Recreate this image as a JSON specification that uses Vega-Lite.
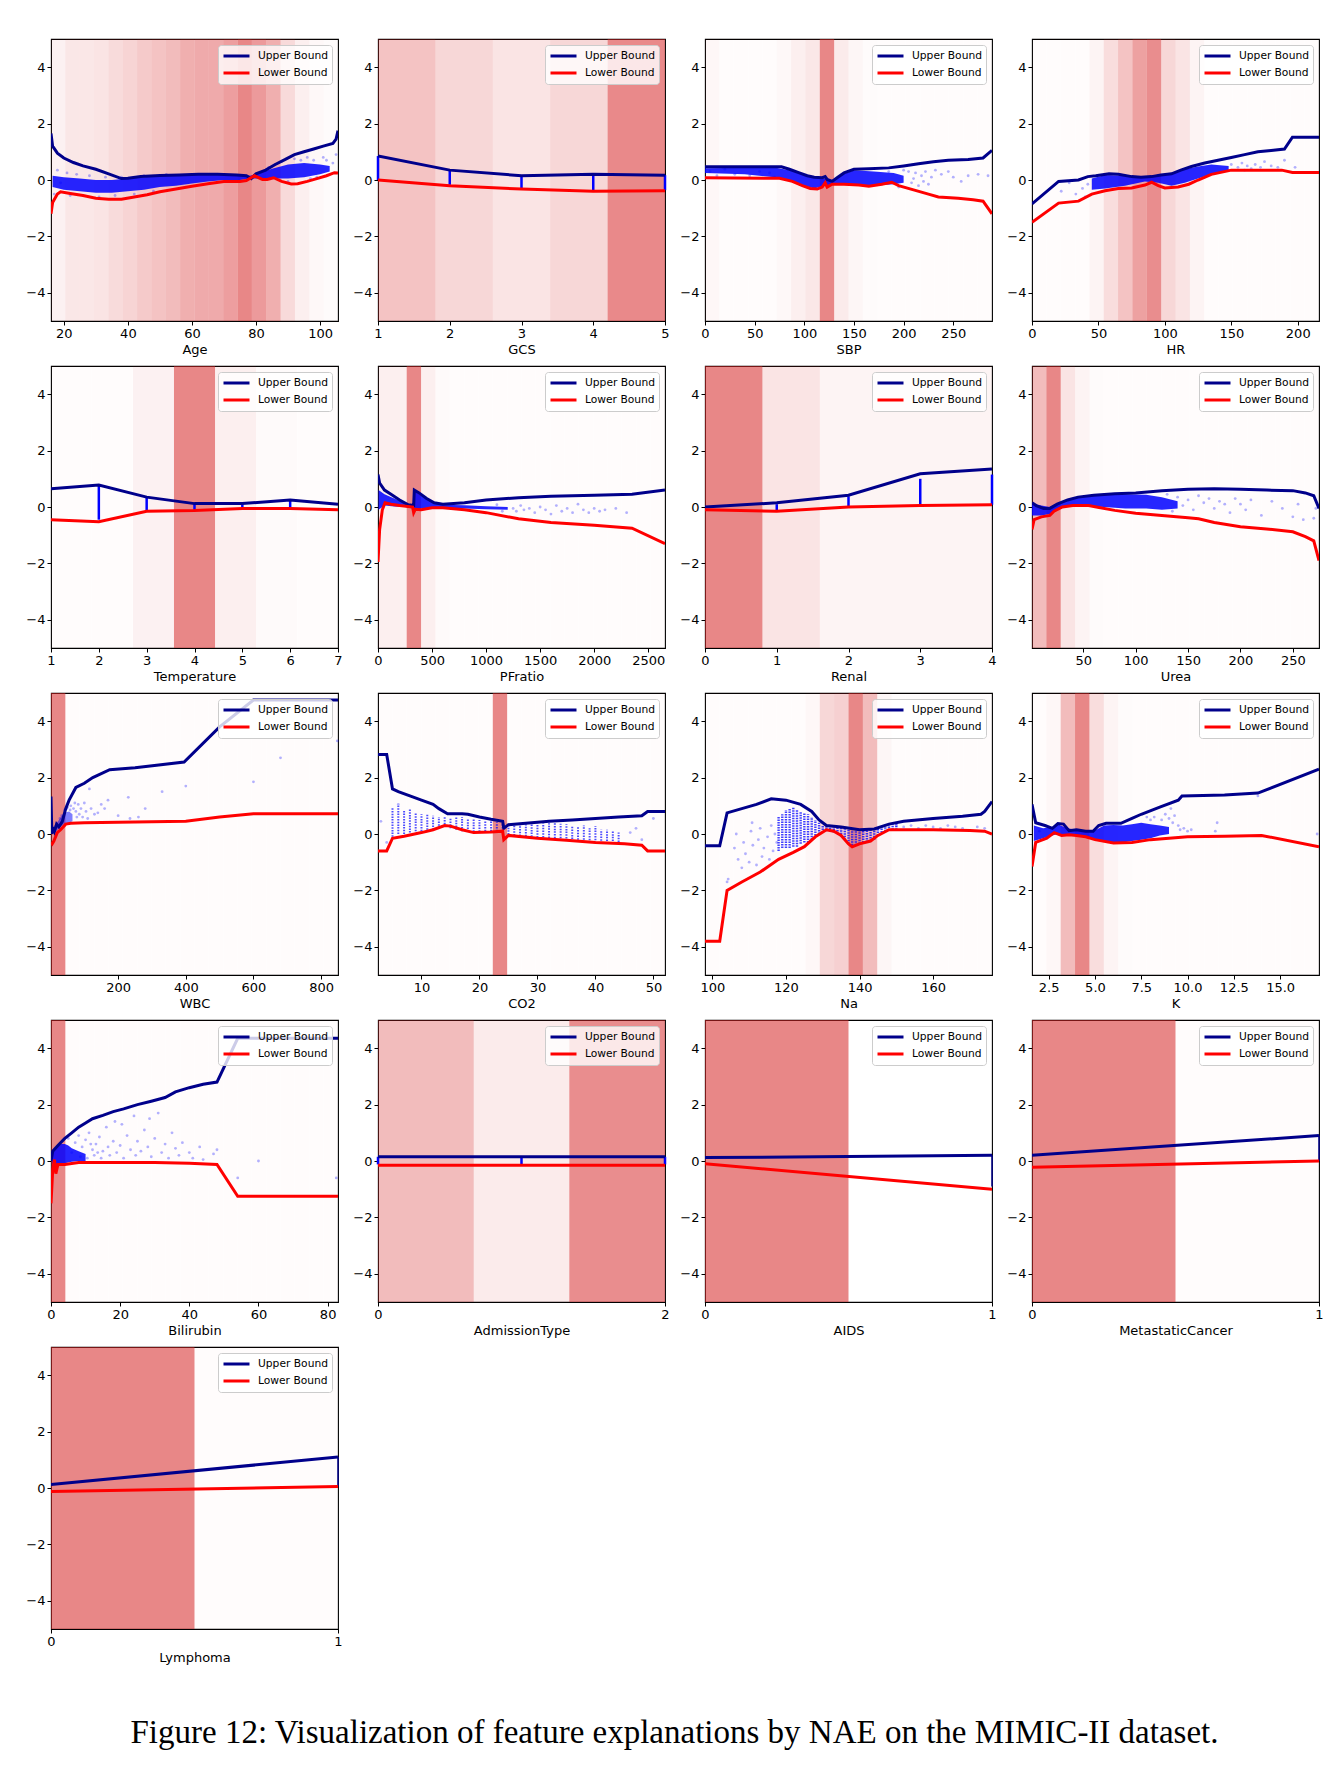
{
"$schema":"https://vega.github.io/schema/vega-lite/v6.json",
"padding":{"left":25,"top":38,"right":10,"bottom":10},
"background":"#ffffff",
"bounds":"flush",
"spacing":{"row":45,"column":40},
"columns":4,
"title":{"text":"Figure 12: Visualization of feature explanations by NAE on the MIMIC-II dataset.","orient":"bottom","anchor":"middle","font":"Liberation Serif","fontSize":33,"fontWeight":"normal","color":"#000","offset":52},
"resolve":{"legend":{"color":"independent"}},
"data":{"name":"d"},
"datasets":{"d":[
{"f":"Age","k":"b","x":16,"x1":20.48,"d":0.1},{"f":"Age","k":"b","x":20.48,"x1":24.96,"d":0.18},{"f":"Age","k":"b","x":24.96,"x1":29.44,"d":0.18},{"f":"Age","k":"b","x":29.44,"x1":33.92,"d":0.2},{"f":"Age","k":"b","x":33.92,"x1":38.4,"d":0.27},{"f":"Age","k":"b","x":38.4,"x1":42.88,"d":0.32},{"f":"Age","k":"b","x":42.88,"x1":47.36,"d":0.4},{"f":"Age","k":"b","x":47.36,"x1":51.84,"d":0.45},{"f":"Age","k":"b","x":51.84,"x1":56.32,"d":0.5},{"f":"Age","k":"b","x":56.32,"x1":60.8,"d":0.6},{"f":"Age","k":"b","x":60.8,"x1":65.28,"d":0.63},{"f":"Age","k":"b","x":65.28,"x1":69.76,"d":0.63},{"f":"Age","k":"b","x":69.76,"x1":74.24,"d":0.72},{"f":"Age","k":"b","x":74.24,"x1":78.72,"d":0.9},{"f":"Age","k":"b","x":78.72,"x1":83.2,"d":0.75},{"f":"Age","k":"b","x":83.2,"x1":87.68,"d":0.6},{"f":"Age","k":"b","x":87.68,"x1":92.16,"d":0.28},{"f":"Age","k":"b","x":92.16,"x1":96.64,"d":0.12},{"f":"Age","k":"b","x":96.64,"x1":101.12,"d":0.05},{"f":"Age","k":"b","x":101.12,"x1":105.6,"d":0.03},
{"f":"Age","k":"a","x":16.5,"y":-0.25,"y2":0.15},{"f":"Age","k":"a","x":20,"y":-0.35,"y2":0.1},{"f":"Age","k":"a","x":25,"y":-0.4,"y2":0.05},{"f":"Age","k":"a","x":30,"y":-0.45,"y2":0.0},{"f":"Age","k":"a","x":35,"y":-0.45,"y2":0.0},{"f":"Age","k":"a","x":40,"y":-0.4,"y2":0.05},{"f":"Age","k":"a","x":45,"y":-0.35,"y2":0.1},{"f":"Age","k":"a","x":50,"y":-0.25,"y2":0.15},{"f":"Age","k":"a","x":55,"y":-0.2,"y2":0.15},{"f":"Age","k":"a","x":60,"y":-0.12,"y2":0.18},{"f":"Age","k":"a","x":65,"y":-0.05,"y2":0.2},{"f":"Age","k":"a","x":70,"y":0.0,"y2":0.2},{"f":"Age","k":"a","x":75,"y":0.0,"y2":0.18},{"f":"Age","k":"a","x":78,"y":0.05,"y2":0.15},{"f":"Age","k":"a","x":80,"y":0.05,"y2":0.2},{"f":"Age","k":"a","x":85,"y":0.05,"y2":0.4},{"f":"Age","k":"a","x":90,"y":0.05,"y2":0.55},{"f":"Age","k":"a","x":95,"y":0.1,"y2":0.6},{"f":"Age","k":"a","x":100,"y":0.2,"y2":0.55},{"f":"Age","k":"a","x":103,"y":0.3,"y2":0.5},
{"f":"Age","k":"p","x":17,"y":-0.5},{"f":"Age","k":"p","x":18,"y":0.35},{"f":"Age","k":"p","x":19,"y":-0.1},{"f":"Age","k":"p","x":21,"y":0.25},{"f":"Age","k":"p","x":22,"y":-0.55},{"f":"Age","k":"p","x":24,"y":0.2},{"f":"Age","k":"p","x":26,"y":-0.55},{"f":"Age","k":"p","x":28,"y":0.15},{"f":"Age","k":"p","x":31,"y":-0.6},{"f":"Age","k":"p","x":33,"y":0.1},{"f":"Age","k":"p","x":36,"y":-0.55},{"f":"Age","k":"p","x":38,"y":0.1},{"f":"Age","k":"p","x":42,"y":-0.5},{"f":"Age","k":"p","x":45,"y":0.15},{"f":"Age","k":"p","x":48,"y":-0.4},{"f":"Age","k":"p","x":52,"y":0.2},{"f":"Age","k":"p","x":84,"y":0.45},{"f":"Age","k":"p","x":86,"y":0.55},{"f":"Age","k":"p","x":88,"y":0.65},{"f":"Age","k":"p","x":90,"y":-0.05},{"f":"Age","k":"p","x":92,"y":0.75},{"f":"Age","k":"p","x":94,"y":0.7},{"f":"Age","k":"p","x":96,"y":0.8},{"f":"Age","k":"p","x":97,"y":0.05},{"f":"Age","k":"p","x":98,"y":0.7},{"f":"Age","k":"p","x":99,"y":0.1},{"f":"Age","k":"p","x":101,"y":0.8},{"f":"Age","k":"p","x":102,"y":0.7},{"f":"Age","k":"p","x":104,"y":0.6},{"f":"Age","k":"p","x":105,"y":0.9},
{"f":"Age","k":"Upper Bound","x":16,"y":1.65},{"f":"Age","k":"Upper Bound","x":16.5,"y":1.2},{"f":"Age","k":"Upper Bound","x":18,"y":0.95},{"f":"Age","k":"Upper Bound","x":20,"y":0.78},{"f":"Age","k":"Upper Bound","x":23,"y":0.62},{"f":"Age","k":"Upper Bound","x":26,"y":0.5},{"f":"Age","k":"Upper Bound","x":30,"y":0.38},{"f":"Age","k":"Upper Bound","x":34,"y":0.22},{"f":"Age","k":"Upper Bound","x":38,"y":0.05},{"f":"Age","k":"Upper Bound","x":40,"y":0.06},{"f":"Age","k":"Upper Bound","x":44,"y":0.12},{"f":"Age","k":"Upper Bound","x":50,"y":0.16},{"f":"Age","k":"Upper Bound","x":56,"y":0.18},{"f":"Age","k":"Upper Bound","x":62,"y":0.2},{"f":"Age","k":"Upper Bound","x":68,"y":0.2},{"f":"Age","k":"Upper Bound","x":74,"y":0.18},{"f":"Age","k":"Upper Bound","x":77,"y":0.15},{"f":"Age","k":"Upper Bound","x":78.5,"y":0.05},{"f":"Age","k":"Upper Bound","x":80,"y":0.22},{"f":"Age","k":"Upper Bound","x":83,"y":0.35},{"f":"Age","k":"Upper Bound","x":86,"y":0.55},{"f":"Age","k":"Upper Bound","x":89,"y":0.72},{"f":"Age","k":"Upper Bound","x":92,"y":0.9},{"f":"Age","k":"Upper Bound","x":95,"y":1.0},{"f":"Age","k":"Upper Bound","x":98,"y":1.1},{"f":"Age","k":"Upper Bound","x":101,"y":1.2},{"f":"Age","k":"Upper Bound","x":104,"y":1.3},{"f":"Age","k":"Upper Bound","x":105,"y":1.45},{"f":"Age","k":"Upper Bound","x":105.6,"y":1.75},
{"f":"Age","k":"Lower Bound","x":16,"y":-1.2},{"f":"Age","k":"Lower Bound","x":16.5,"y":-0.8},{"f":"Age","k":"Lower Bound","x":18,"y":-0.5},{"f":"Age","k":"Lower Bound","x":19,"y":-0.42},{"f":"Age","k":"Lower Bound","x":22,"y":-0.48},{"f":"Age","k":"Lower Bound","x":26,"y":-0.55},{"f":"Age","k":"Lower Bound","x":30,"y":-0.65},{"f":"Age","k":"Lower Bound","x":34,"y":-0.68},{"f":"Age","k":"Lower Bound","x":38,"y":-0.68},{"f":"Age","k":"Lower Bound","x":42,"y":-0.6},{"f":"Age","k":"Lower Bound","x":46,"y":-0.52},{"f":"Age","k":"Lower Bound","x":50,"y":-0.42},{"f":"Age","k":"Lower Bound","x":55,"y":-0.32},{"f":"Age","k":"Lower Bound","x":60,"y":-0.22},{"f":"Age","k":"Lower Bound","x":65,"y":-0.13},{"f":"Age","k":"Lower Bound","x":70,"y":-0.05},{"f":"Age","k":"Lower Bound","x":75,"y":-0.05},{"f":"Age","k":"Lower Bound","x":77,"y":-0.02},{"f":"Age","k":"Lower Bound","x":79.5,"y":0.15},{"f":"Age","k":"Lower Bound","x":82,"y":0.02},{"f":"Age","k":"Lower Bound","x":83.5,"y":0.02},{"f":"Age","k":"Lower Bound","x":85.5,"y":0.08},{"f":"Age","k":"Lower Bound","x":88,"y":-0.05},{"f":"Age","k":"Lower Bound","x":91,"y":-0.14},{"f":"Age","k":"Lower Bound","x":93,"y":-0.13},{"f":"Age","k":"Lower Bound","x":96,"y":-0.05},{"f":"Age","k":"Lower Bound","x":99,"y":0.05},{"f":"Age","k":"Lower Bound","x":102,"y":0.15},{"f":"Age","k":"Lower Bound","x":104.5,"y":0.26},{"f":"Age","k":"Lower Bound","x":105.6,"y":0.25},

{"f":"GCS","k":"b","x":1,"x1":1.8,"d":0.45},{"f":"GCS","k":"b","x":1.8,"x1":2.6,"d":0.3},{"f":"GCS","k":"b","x":2.6,"x1":3.4,"d":0.2},{"f":"GCS","k":"b","x":3.4,"x1":4.2,"d":0.3},{"f":"GCS","k":"b","x":4.2,"x1":5,"d":0.88},
{"f":"GCS","k":"s","x":2,"y":-0.17,"y2":0.35},{"f":"GCS","k":"s","x":3,"y":-0.3,"y2":0.15},{"f":"GCS","k":"s","x":4,"y":-0.37,"y2":0.2},{"f":"GCS","k":"s","x":5,"y":-0.36,"y2":0.17},{"f":"GCS","k":"s","x":1,"y":0.0,"y2":0.85},
{"f":"GCS","k":"Upper Bound","x":1,"y":0.85},{"f":"GCS","k":"Upper Bound","x":2,"y":0.35},{"f":"GCS","k":"Upper Bound","x":3,"y":0.15},{"f":"GCS","k":"Upper Bound","x":4,"y":0.2},{"f":"GCS","k":"Upper Bound","x":5,"y":0.17},
{"f":"GCS","k":"Lower Bound","x":1,"y":0.0},{"f":"GCS","k":"Lower Bound","x":2,"y":-0.2},{"f":"GCS","k":"Lower Bound","x":3,"y":-0.32},{"f":"GCS","k":"Lower Bound","x":4,"y":-0.4},{"f":"GCS","k":"Lower Bound","x":5,"y":-0.38},

{"f":"SBP","k":"b","x":0,"x1":14.45,"d":0.06},{"f":"SBP","k":"b","x":14.45,"x1":28.9,"d":0.02},{"f":"SBP","k":"b","x":28.9,"x1":43.35,"d":0.02},{"f":"SBP","k":"b","x":43.35,"x1":57.8,"d":0.02},{"f":"SBP","k":"b","x":57.8,"x1":72.25,"d":0.02},{"f":"SBP","k":"b","x":72.25,"x1":86.7,"d":0.05},{"f":"SBP","k":"b","x":86.7,"x1":101.15,"d":0.12},{"f":"SBP","k":"b","x":101.15,"x1":115.6,"d":0.18},{"f":"SBP","k":"b","x":115.6,"x1":130.05,"d":0.9},{"f":"SBP","k":"b","x":130.05,"x1":144.5,"d":0.15},{"f":"SBP","k":"b","x":144.5,"x1":158.95,"d":0.07},{"f":"SBP","k":"b","x":158.95,"x1":173.4,"d":0.03},{"f":"SBP","k":"b","x":173.4,"x1":187.85,"d":0.02},{"f":"SBP","k":"b","x":187.85,"x1":202.3,"d":0.02},{"f":"SBP","k":"b","x":202.3,"x1":216.75,"d":0.02},{"f":"SBP","k":"b","x":216.75,"x1":231.2,"d":0.02},{"f":"SBP","k":"b","x":231.2,"x1":245.65,"d":0.02},{"f":"SBP","k":"b","x":245.65,"x1":260.1,"d":0.02},{"f":"SBP","k":"b","x":260.1,"x1":274.55,"d":0.02},{"f":"SBP","k":"b","x":274.55,"x1":289,"d":0.02},
{"f":"SBP","k":"a","x":0,"y":0.25,"y2":0.42},{"f":"SBP","k":"a","x":40,"y":0.2,"y2":0.43},{"f":"SBP","k":"a","x":70,"y":0.1,"y2":0.44},{"f":"SBP","k":"a","x":85,"y":0.0,"y2":0.35},{"f":"SBP","k":"a","x":100,"y":-0.2,"y2":0.2},{"f":"SBP","k":"a","x":110,"y":-0.3,"y2":0.1},{"f":"SBP","k":"a","x":120,"y":-0.2,"y2":0.05},{"f":"SBP","k":"a","x":128,"y":-0.15,"y2":-0.02},{"f":"SBP","k":"a","x":135,"y":-0.15,"y2":0.15},{"f":"SBP","k":"a","x":150,"y":-0.15,"y2":0.35},{"f":"SBP","k":"a","x":170,"y":-0.2,"y2":0.3},{"f":"SBP","k":"a","x":190,"y":-0.15,"y2":0.25},{"f":"SBP","k":"a","x":200,"y":-0.1,"y2":0.15},
{"f":"SBP","k":"p","x":5,"y":0.3},{"f":"SBP","k":"p","x":12,"y":0.15},{"f":"SBP","k":"p","x":20,"y":0.38},{"f":"SBP","k":"p","x":30,"y":0.2},{"f":"SBP","k":"p","x":45,"y":0.15},{"f":"SBP","k":"p","x":55,"y":0.3},{"f":"SBP","k":"p","x":65,"y":0.25},{"f":"SBP","k":"p","x":70,"y":0.1},{"f":"SBP","k":"p","x":185,"y":0.3},{"f":"SBP","k":"p","x":195,"y":-0.25},{"f":"SBP","k":"p","x":200,"y":0.35},{"f":"SBP","k":"p","x":205,"y":0.3},{"f":"SBP","k":"p","x":208,"y":-0.1},{"f":"SBP","k":"p","x":210,"y":0.05},{"f":"SBP","k":"p","x":212,"y":0.25},{"f":"SBP","k":"p","x":215,"y":-0.2},{"f":"SBP","k":"p","x":218,"y":0.15},{"f":"SBP","k":"p","x":220,"y":-0.05},{"f":"SBP","k":"p","x":222,"y":0.3},{"f":"SBP","k":"p","x":225,"y":-0.15},{"f":"SBP","k":"p","x":228,"y":0.1},{"f":"SBP","k":"p","x":232,"y":0.35},{"f":"SBP","k":"p","x":238,"y":0.2},{"f":"SBP","k":"p","x":245,"y":0.3},{"f":"SBP","k":"p","x":250,"y":0.1},{"f":"SBP","k":"p","x":258,"y":-0.05},{"f":"SBP","k":"p","x":265,"y":0.15},{"f":"SBP","k":"p","x":275,"y":0.2},{"f":"SBP","k":"p","x":285,"y":0.15},
{"f":"SBP","k":"Upper Bound","x":0,"y":0.47},{"f":"SBP","k":"Upper Bound","x":77,"y":0.47},{"f":"SBP","k":"Upper Bound","x":85,"y":0.38},{"f":"SBP","k":"Upper Bound","x":95,"y":0.25},{"f":"SBP","k":"Upper Bound","x":103,"y":0.15},{"f":"SBP","k":"Upper Bound","x":110,"y":0.1},{"f":"SBP","k":"Upper Bound","x":118,"y":0.08},{"f":"SBP","k":"Upper Bound","x":121,"y":0.12},{"f":"SBP","k":"Upper Bound","x":123,"y":0.02},{"f":"SBP","k":"Upper Bound","x":128,"y":-0.05},{"f":"SBP","k":"Upper Bound","x":133,"y":0.08},{"f":"SBP","k":"Upper Bound","x":140,"y":0.25},{"f":"SBP","k":"Upper Bound","x":150,"y":0.38},{"f":"SBP","k":"Upper Bound","x":165,"y":0.4},{"f":"SBP","k":"Upper Bound","x":185,"y":0.43},{"f":"SBP","k":"Upper Bound","x":200,"y":0.5},{"f":"SBP","k":"Upper Bound","x":215,"y":0.58},{"f":"SBP","k":"Upper Bound","x":230,"y":0.65},{"f":"SBP","k":"Upper Bound","x":245,"y":0.7},{"f":"SBP","k":"Upper Bound","x":265,"y":0.73},{"f":"SBP","k":"Upper Bound","x":280,"y":0.78},{"f":"SBP","k":"Upper Bound","x":289,"y":1.05},
{"f":"SBP","k":"Lower Bound","x":0,"y":0.08},{"f":"SBP","k":"Lower Bound","x":75,"y":0.06},{"f":"SBP","k":"Lower Bound","x":88,"y":-0.05},{"f":"SBP","k":"Lower Bound","x":98,"y":-0.2},{"f":"SBP","k":"Lower Bound","x":106,"y":-0.3},{"f":"SBP","k":"Lower Bound","x":113,"y":-0.32},{"f":"SBP","k":"Lower Bound","x":118,"y":-0.25},{"f":"SBP","k":"Lower Bound","x":121,"y":-0.1},{"f":"SBP","k":"Lower Bound","x":123,"y":-0.25},{"f":"SBP","k":"Lower Bound","x":128,"y":-0.15},{"f":"SBP","k":"Lower Bound","x":140,"y":-0.15},{"f":"SBP","k":"Lower Bound","x":155,"y":-0.18},{"f":"SBP","k":"Lower Bound","x":165,"y":-0.22},{"f":"SBP","k":"Lower Bound","x":178,"y":-0.15},{"f":"SBP","k":"Lower Bound","x":188,"y":-0.08},{"f":"SBP","k":"Lower Bound","x":195,"y":-0.2},{"f":"SBP","k":"Lower Bound","x":210,"y":-0.35},{"f":"SBP","k":"Lower Bound","x":225,"y":-0.5},{"f":"SBP","k":"Lower Bound","x":235,"y":-0.6},{"f":"SBP","k":"Lower Bound","x":255,"y":-0.65},{"f":"SBP","k":"Lower Bound","x":270,"y":-0.7},{"f":"SBP","k":"Lower Bound","x":280,"y":-0.75},{"f":"SBP","k":"Lower Bound","x":289,"y":-1.2},

{"f":"HR","k":"b","x":0,"x1":10.8,"d":0.02},{"f":"HR","k":"b","x":10.8,"x1":21.6,"d":0.02},{"f":"HR","k":"b","x":21.6,"x1":32.4,"d":0.02},{"f":"HR","k":"b","x":32.4,"x1":43.2,"d":0.02},{"f":"HR","k":"b","x":43.2,"x1":54,"d":0.08},{"f":"HR","k":"b","x":54,"x1":64.8,"d":0.25},{"f":"HR","k":"b","x":64.8,"x1":75.6,"d":0.45},{"f":"HR","k":"b","x":75.6,"x1":86.4,"d":0.7},{"f":"HR","k":"b","x":86.4,"x1":97.2,"d":0.85},{"f":"HR","k":"b","x":97.2,"x1":108,"d":0.3},{"f":"HR","k":"b","x":108,"x1":118.8,"d":0.2},{"f":"HR","k":"b","x":118.8,"x1":129.6,"d":0.08},{"f":"HR","k":"b","x":129.6,"x1":140.4,"d":0.02},{"f":"HR","k":"b","x":140.4,"x1":151.2,"d":0.02},{"f":"HR","k":"b","x":151.2,"x1":162,"d":0.02},{"f":"HR","k":"b","x":162,"x1":172.8,"d":0.02},{"f":"HR","k":"b","x":172.8,"x1":183.6,"d":0.02},{"f":"HR","k":"b","x":183.6,"x1":194.4,"d":0.02},{"f":"HR","k":"b","x":194.4,"x1":205.2,"d":0.02},{"f":"HR","k":"b","x":205.2,"x1":216,"d":0.02},
{"f":"HR","k":"a","x":45,"y":-0.35,"y2":0.05},{"f":"HR","k":"a","x":55,"y":-0.3,"y2":0.18},{"f":"HR","k":"a","x":70,"y":-0.2,"y2":0.15},{"f":"HR","k":"a","x":85,"y":-0.05,"y2":0.1},{"f":"HR","k":"a","x":95,"y":-0.1,"y2":0.15},{"f":"HR","k":"a","x":105,"y":-0.2,"y2":0.25},{"f":"HR","k":"a","x":115,"y":-0.1,"y2":0.38},{"f":"HR","k":"a","x":125,"y":0.05,"y2":0.48},{"f":"HR","k":"a","x":135,"y":0.2,"y2":0.55},{"f":"HR","k":"a","x":148,"y":0.3,"y2":0.5},
{"f":"HR","k":"p","x":22,"y":-0.4},{"f":"HR","k":"p","x":28,"y":-0.1},{"f":"HR","k":"p","x":33,"y":-0.5},{"f":"HR","k":"p","x":38,"y":-0.3},{"f":"HR","k":"p","x":40,"y":-0.6},{"f":"HR","k":"p","x":42,"y":-0.15},{"f":"HR","k":"p","x":150,"y":0.55},{"f":"HR","k":"p","x":155,"y":0.45},{"f":"HR","k":"p","x":158,"y":0.6},{"f":"HR","k":"p","x":160,"y":0.35},{"f":"HR","k":"p","x":162,"y":0.5},{"f":"HR","k":"p","x":165,"y":0.4},{"f":"HR","k":"p","x":168,"y":0.55},{"f":"HR","k":"p","x":172,"y":0.45},{"f":"HR","k":"p","x":175,"y":0.65},{"f":"HR","k":"p","x":180,"y":0.5},{"f":"HR","k":"p","x":185,"y":0.45},{"f":"HR","k":"p","x":190,"y":0.7},{"f":"HR","k":"p","x":198,"y":0.45},
{"f":"HR","k":"Upper Bound","x":0,"y":-0.85},{"f":"HR","k":"Upper Bound","x":20,"y":-0.05},{"f":"HR","k":"Upper Bound","x":35,"y":0.0},{"f":"HR","k":"Upper Bound","x":42,"y":0.12},{"f":"HR","k":"Upper Bound","x":48,"y":0.15},{"f":"HR","k":"Upper Bound","x":58,"y":0.22},{"f":"HR","k":"Upper Bound","x":65,"y":0.2},{"f":"HR","k":"Upper Bound","x":75,"y":0.12},{"f":"HR","k":"Upper Bound","x":82,"y":0.1},{"f":"HR","k":"Upper Bound","x":90,"y":0.12},{"f":"HR","k":"Upper Bound","x":97,"y":0.18},{"f":"HR","k":"Upper Bound","x":105,"y":0.22},{"f":"HR","k":"Upper Bound","x":112,"y":0.35},{"f":"HR","k":"Upper Bound","x":120,"y":0.48},{"f":"HR","k":"Upper Bound","x":130,"y":0.6},{"f":"HR","k":"Upper Bound","x":140,"y":0.7},{"f":"HR","k":"Upper Bound","x":150,"y":0.8},{"f":"HR","k":"Upper Bound","x":160,"y":0.9},{"f":"HR","k":"Upper Bound","x":170,"y":1.0},{"f":"HR","k":"Upper Bound","x":180,"y":1.05},{"f":"HR","k":"Upper Bound","x":190,"y":1.1},{"f":"HR","k":"Upper Bound","x":196,"y":1.52},{"f":"HR","k":"Upper Bound","x":216,"y":1.52},
{"f":"HR","k":"Lower Bound","x":0,"y":-1.5},{"f":"HR","k":"Lower Bound","x":20,"y":-0.82},{"f":"HR","k":"Lower Bound","x":35,"y":-0.75},{"f":"HR","k":"Lower Bound","x":45,"y":-0.5},{"f":"HR","k":"Lower Bound","x":55,"y":-0.38},{"f":"HR","k":"Lower Bound","x":65,"y":-0.3},{"f":"HR","k":"Lower Bound","x":75,"y":-0.28},{"f":"HR","k":"Lower Bound","x":85,"y":-0.18},{"f":"HR","k":"Lower Bound","x":90,"y":-0.08},{"f":"HR","k":"Lower Bound","x":95,"y":-0.2},{"f":"HR","k":"Lower Bound","x":100,"y":-0.28},{"f":"HR","k":"Lower Bound","x":110,"y":-0.25},{"f":"HR","k":"Lower Bound","x":118,"y":-0.15},{"f":"HR","k":"Lower Bound","x":125,"y":0.0},{"f":"HR","k":"Lower Bound","x":135,"y":0.2},{"f":"HR","k":"Lower Bound","x":150,"y":0.35},{"f":"HR","k":"Lower Bound","x":170,"y":0.35},{"f":"HR","k":"Lower Bound","x":188,"y":0.35},{"f":"HR","k":"Lower Bound","x":196,"y":0.27},{"f":"HR","k":"Lower Bound","x":216,"y":0.27},

{"f":"Temperature","k":"b","x":1,"x1":1.857,"d":0.02},{"f":"Temperature","k":"b","x":1.857,"x1":2.714,"d":0.02},{"f":"Temperature","k":"b","x":2.714,"x1":3.571,"d":0.1},{"f":"Temperature","k":"b","x":3.571,"x1":4.429,"d":0.9},{"f":"Temperature","k":"b","x":4.429,"x1":5.286,"d":0.12},{"f":"Temperature","k":"b","x":5.286,"x1":6.143,"d":0.04},{"f":"Temperature","k":"b","x":6.143,"x1":7,"d":0.02},
{"f":"Temperature","k":"s","x":2,"y":-0.45,"y2":0.75},{"f":"Temperature","k":"s","x":3,"y":-0.15,"y2":0.33},{"f":"Temperature","k":"s","x":4,"y":-0.1,"y2":0.12},{"f":"Temperature","k":"s","x":5,"y":0.0,"y2":0.1},{"f":"Temperature","k":"s","x":6,"y":0.0,"y2":0.22},
{"f":"Temperature","k":"Upper Bound","x":1,"y":0.65},{"f":"Temperature","k":"Upper Bound","x":2,"y":0.78},{"f":"Temperature","k":"Upper Bound","x":3,"y":0.35},{"f":"Temperature","k":"Upper Bound","x":4,"y":0.12},{"f":"Temperature","k":"Upper Bound","x":5,"y":0.12},{"f":"Temperature","k":"Upper Bound","x":6,"y":0.25},{"f":"Temperature","k":"Upper Bound","x":7,"y":0.1},
{"f":"Temperature","k":"Lower Bound","x":1,"y":-0.45},{"f":"Temperature","k":"Lower Bound","x":2,"y":-0.52},{"f":"Temperature","k":"Lower Bound","x":3,"y":-0.15},{"f":"Temperature","k":"Lower Bound","x":4,"y":-0.12},{"f":"Temperature","k":"Lower Bound","x":5,"y":-0.05},{"f":"Temperature","k":"Lower Bound","x":6,"y":-0.05},{"f":"Temperature","k":"Lower Bound","x":7,"y":-0.1},

{"f":"PFratio","k":"b","x":0,"x1":132.75,"d":0.12},{"f":"PFratio","k":"b","x":132.75,"x1":265.5,"d":0.12},{"f":"PFratio","k":"b","x":265.5,"x1":398.25,"d":0.9},{"f":"PFratio","k":"b","x":398.25,"x1":531,"d":0.12},{"f":"PFratio","k":"b","x":531,"x1":663.75,"d":0.04},{"f":"PFratio","k":"b","x":663.75,"x1":796.5,"d":0.02},{"f":"PFratio","k":"b","x":796.5,"x1":929.25,"d":0.02},{"f":"PFratio","k":"b","x":929.25,"x1":1062,"d":0.02},{"f":"PFratio","k":"b","x":1062,"x1":1194.75,"d":0.02},{"f":"PFratio","k":"b","x":1194.75,"x1":1327.5,"d":0.02},{"f":"PFratio","k":"b","x":1327.5,"x1":1460.25,"d":0.02},{"f":"PFratio","k":"b","x":1460.25,"x1":1593,"d":0.02},{"f":"PFratio","k":"b","x":1593,"x1":1725.75,"d":0.02},{"f":"PFratio","k":"b","x":1725.75,"x1":1858.5,"d":0.02},{"f":"PFratio","k":"b","x":1858.5,"x1":1991.25,"d":0.02},{"f":"PFratio","k":"b","x":1991.25,"x1":2124,"d":0.02},{"f":"PFratio","k":"b","x":2124,"x1":2256.75,"d":0.02},{"f":"PFratio","k":"b","x":2256.75,"x1":2389.5,"d":0.02},{"f":"PFratio","k":"b","x":2389.5,"x1":2522.25,"d":0.02},{"f":"PFratio","k":"b","x":2522.25,"x1":2655,"d":0.02},
{"f":"PFratio","k":"a","x":5,"y":-0.1,"y2":0.6},{"f":"PFratio","k":"a","x":60,"y":0.05,"y2":0.45},{"f":"PFratio","k":"a","x":150,"y":0.02,"y2":0.3},{"f":"PFratio","k":"a","x":250,"y":0.0,"y2":0.12},{"f":"PFratio","k":"a","x":320,"y":-0.05,"y2":0.08},{"f":"PFratio","k":"a","x":340,"y":-0.15,"y2":0.55},{"f":"PFratio","k":"a","x":400,"y":-0.05,"y2":0.4},{"f":"PFratio","k":"a","x":500,"y":-0.05,"y2":0.18},{"f":"PFratio","k":"a","x":600,"y":-0.05,"y2":0.08},{"f":"PFratio","k":"a","x":800,"y":-0.05,"y2":0.06},{"f":"PFratio","k":"a","x":1000,"y":-0.08,"y2":0.03},{"f":"PFratio","k":"a","x":1200,"y":-0.1,"y2":0.0},
{"f":"PFratio","k":"p","x":1100,"y":0.08},{"f":"PFratio","k":"p","x":1150,"y":-0.15},{"f":"PFratio","k":"p","x":1250,"y":-0.05},{"f":"PFratio","k":"p","x":1280,"y":-0.15},{"f":"PFratio","k":"p","x":1320,"y":0.05},{"f":"PFratio","k":"p","x":1350,"y":-0.1},{"f":"PFratio","k":"p","x":1400,"y":-0.05},{"f":"PFratio","k":"p","x":1450,"y":-0.2},{"f":"PFratio","k":"p","x":1500,"y":0.0},{"f":"PFratio","k":"p","x":1550,"y":-0.1},{"f":"PFratio","k":"p","x":1600,"y":-0.25},{"f":"PFratio","k":"p","x":1650,"y":0.05},{"f":"PFratio","k":"p","x":1700,"y":-0.15},{"f":"PFratio","k":"p","x":1750,"y":-0.05},{"f":"PFratio","k":"p","x":1800,"y":-0.2},{"f":"PFratio","k":"p","x":1850,"y":0.1},{"f":"PFratio","k":"p","x":1900,"y":-0.1},{"f":"PFratio","k":"p","x":1950,"y":-0.2},{"f":"PFratio","k":"p","x":2000,"y":-0.05},{"f":"PFratio","k":"p","x":2050,"y":-0.15},{"f":"PFratio","k":"p","x":2100,"y":-0.1},{"f":"PFratio","k":"p","x":2200,"y":-0.05},{"f":"PFratio","k":"p","x":2300,"y":-0.2},
{"f":"PFratio","k":"Upper Bound","x":0,"y":1.15},{"f":"PFratio","k":"Upper Bound","x":15,"y":0.85},{"f":"PFratio","k":"Upper Bound","x":60,"y":0.6},{"f":"PFratio","k":"Upper Bound","x":120,"y":0.45},{"f":"PFratio","k":"Upper Bound","x":200,"y":0.25},{"f":"PFratio","k":"Upper Bound","x":280,"y":0.08},{"f":"PFratio","k":"Upper Bound","x":330,"y":0.05},{"f":"PFratio","k":"Upper Bound","x":336,"y":0.6},{"f":"PFratio","k":"Upper Bound","x":380,"y":0.5},{"f":"PFratio","k":"Upper Bound","x":450,"y":0.3},{"f":"PFratio","k":"Upper Bound","x":520,"y":0.15},{"f":"PFratio","k":"Upper Bound","x":600,"y":0.1},{"f":"PFratio","k":"Upper Bound","x":800,"y":0.15},{"f":"PFratio","k":"Upper Bound","x":1000,"y":0.25},{"f":"PFratio","k":"Upper Bound","x":1300,"y":0.33},{"f":"PFratio","k":"Upper Bound","x":1600,"y":0.38},{"f":"PFratio","k":"Upper Bound","x":2000,"y":0.42},{"f":"PFratio","k":"Upper Bound","x":2350,"y":0.45},{"f":"PFratio","k":"Upper Bound","x":2655,"y":0.6},
{"f":"PFratio","k":"Lower Bound","x":0,"y":-1.95},{"f":"PFratio","k":"Lower Bound","x":15,"y":-0.8},{"f":"PFratio","k":"Lower Bound","x":40,"y":-0.1},{"f":"PFratio","k":"Lower Bound","x":65,"y":0.15},{"f":"PFratio","k":"Lower Bound","x":120,"y":0.1},{"f":"PFratio","k":"Lower Bound","x":200,"y":0.05},{"f":"PFratio","k":"Lower Bound","x":320,"y":0.0},{"f":"PFratio","k":"Lower Bound","x":330,"y":-0.2},{"f":"PFratio","k":"Lower Bound","x":345,"y":-0.08},{"f":"PFratio","k":"Lower Bound","x":400,"y":-0.1},{"f":"PFratio","k":"Lower Bound","x":500,"y":-0.03},{"f":"PFratio","k":"Lower Bound","x":600,"y":-0.03},{"f":"PFratio","k":"Lower Bound","x":800,"y":-0.1},{"f":"PFratio","k":"Lower Bound","x":1000,"y":-0.2},{"f":"PFratio","k":"Lower Bound","x":1300,"y":-0.42},{"f":"PFratio","k":"Lower Bound","x":1600,"y":-0.55},{"f":"PFratio","k":"Lower Bound","x":2000,"y":-0.65},{"f":"PFratio","k":"Lower Bound","x":2350,"y":-0.75},{"f":"PFratio","k":"Lower Bound","x":2655,"y":-1.3},

{"f":"Renal","k":"b","x":0,"x1":0.8,"d":0.9},{"f":"Renal","k":"b","x":0.8,"x1":1.6,"d":0.2},{"f":"Renal","k":"b","x":1.6,"x1":2.4,"d":0.08},{"f":"Renal","k":"b","x":2.4,"x1":3.2,"d":0.08},{"f":"Renal","k":"b","x":3.2,"x1":4,"d":0.08},
{"f":"Renal","k":"s","x":1,"y":-0.12,"y2":0.1},{"f":"Renal","k":"s","x":2,"y":0.0,"y2":0.38},{"f":"Renal","k":"s","x":3,"y":0.05,"y2":1.0},{"f":"Renal","k":"s","x":4,"y":0.08,"y2":1.15},
{"f":"Renal","k":"Upper Bound","x":0,"y":0.0},{"f":"Renal","k":"Upper Bound","x":1,"y":0.15},{"f":"Renal","k":"Upper Bound","x":2,"y":0.42},{"f":"Renal","k":"Upper Bound","x":3,"y":1.18},{"f":"Renal","k":"Upper Bound","x":4,"y":1.35},
{"f":"Renal","k":"Lower Bound","x":0,"y":-0.1},{"f":"Renal","k":"Lower Bound","x":1,"y":-0.15},{"f":"Renal","k":"Lower Bound","x":2,"y":0.0},{"f":"Renal","k":"Lower Bound","x":3,"y":0.05},{"f":"Renal","k":"Lower Bound","x":4,"y":0.08},

{"f":"Urea","k":"b","x":1,"x1":14.7,"d":0.5},{"f":"Urea","k":"b","x":14.7,"x1":28.4,"d":0.9},{"f":"Urea","k":"b","x":28.4,"x1":42.1,"d":0.2},{"f":"Urea","k":"b","x":42.1,"x1":55.8,"d":0.08},{"f":"Urea","k":"b","x":55.8,"x1":69.5,"d":0.03},{"f":"Urea","k":"b","x":69.5,"x1":83.2,"d":0.02},{"f":"Urea","k":"b","x":83.2,"x1":96.9,"d":0.02},{"f":"Urea","k":"b","x":96.9,"x1":110.6,"d":0.02},{"f":"Urea","k":"b","x":110.6,"x1":124.3,"d":0.02},{"f":"Urea","k":"b","x":124.3,"x1":138,"d":0.02},{"f":"Urea","k":"b","x":138,"x1":151.7,"d":0.02},{"f":"Urea","k":"b","x":151.7,"x1":165.4,"d":0.02},{"f":"Urea","k":"b","x":165.4,"x1":179.1,"d":0.02},{"f":"Urea","k":"b","x":179.1,"x1":192.8,"d":0.02},{"f":"Urea","k":"b","x":192.8,"x1":206.5,"d":0.02},{"f":"Urea","k":"b","x":206.5,"x1":220.2,"d":0.02},{"f":"Urea","k":"b","x":220.2,"x1":233.9,"d":0.02},{"f":"Urea","k":"b","x":233.9,"x1":247.6,"d":0.02},{"f":"Urea","k":"b","x":247.6,"x1":261.3,"d":0.02},{"f":"Urea","k":"b","x":261.3,"x1":275,"d":0.02},
{"f":"Urea","k":"a","x":1,"y":-0.3,"y2":0.12},{"f":"Urea","k":"a","x":10,"y":-0.3,"y2":0.05},{"f":"Urea","k":"a","x":18,"y":-0.25,"y2":0.0},{"f":"Urea","k":"a","x":25,"y":-0.05,"y2":0.1},{"f":"Urea","k":"a","x":35,"y":0.02,"y2":0.25},{"f":"Urea","k":"a","x":50,"y":0.03,"y2":0.38},{"f":"Urea","k":"a","x":70,"y":0.0,"y2":0.43},{"f":"Urea","k":"a","x":90,"y":-0.05,"y2":0.45},{"f":"Urea","k":"a","x":110,"y":-0.05,"y2":0.43},{"f":"Urea","k":"a","x":125,"y":-0.1,"y2":0.35},{"f":"Urea","k":"a","x":140,"y":-0.05,"y2":0.2},
{"f":"Urea","k":"p","x":130,"y":0.45},{"f":"Urea","k":"p","x":135,"y":-0.15},{"f":"Urea","k":"p","x":140,"y":0.35},{"f":"Urea","k":"p","x":145,"y":0.05},{"f":"Urea","k":"p","x":150,"y":0.25},{"f":"Urea","k":"p","x":155,"y":-0.1},{"f":"Urea","k":"p","x":160,"y":0.4},{"f":"Urea","k":"p","x":165,"y":0.15},{"f":"Urea","k":"p","x":170,"y":0.3},{"f":"Urea","k":"p","x":175,"y":-0.05},{"f":"Urea","k":"p","x":180,"y":0.2},{"f":"Urea","k":"p","x":185,"y":0.1},{"f":"Urea","k":"p","x":190,"y":-0.2},{"f":"Urea","k":"p","x":195,"y":0.3},{"f":"Urea","k":"p","x":200,"y":0.1},{"f":"Urea","k":"p","x":205,"y":-0.1},{"f":"Urea","k":"p","x":210,"y":0.25},{"f":"Urea","k":"p","x":220,"y":-0.3},{"f":"Urea","k":"p","x":230,"y":0.2},{"f":"Urea","k":"p","x":240,"y":-0.05},{"f":"Urea","k":"p","x":250,"y":-0.35},{"f":"Urea","k":"p","x":255,"y":0.1},{"f":"Urea","k":"p","x":260,"y":-0.45},{"f":"Urea","k":"p","x":270,"y":-0.4},{"f":"Urea","k":"p","x":272,"y":-0.05},
{"f":"Urea","k":"Upper Bound","x":1,"y":0.15},{"f":"Urea","k":"Upper Bound","x":5,"y":0.05},{"f":"Urea","k":"Upper Bound","x":12,"y":-0.05},{"f":"Urea","k":"Upper Bound","x":18,"y":-0.05},{"f":"Urea","k":"Upper Bound","x":25,"y":0.1},{"f":"Urea","k":"Upper Bound","x":35,"y":0.25},{"f":"Urea","k":"Upper Bound","x":45,"y":0.35},{"f":"Urea","k":"Upper Bound","x":60,"y":0.42},{"f":"Urea","k":"Upper Bound","x":80,"y":0.47},{"f":"Urea","k":"Upper Bound","x":100,"y":0.5},{"f":"Urea","k":"Upper Bound","x":125,"y":0.58},{"f":"Urea","k":"Upper Bound","x":150,"y":0.63},{"f":"Urea","k":"Upper Bound","x":175,"y":0.65},{"f":"Urea","k":"Upper Bound","x":200,"y":0.63},{"f":"Urea","k":"Upper Bound","x":225,"y":0.6},{"f":"Urea","k":"Upper Bound","x":250,"y":0.58},{"f":"Urea","k":"Upper Bound","x":262,"y":0.5},{"f":"Urea","k":"Upper Bound","x":270,"y":0.4},{"f":"Urea","k":"Upper Bound","x":275,"y":-0.05},
{"f":"Urea","k":"Lower Bound","x":1,"y":-0.8},{"f":"Urea","k":"Lower Bound","x":3,"y":-0.45},{"f":"Urea","k":"Lower Bound","x":10,"y":-0.35},{"f":"Urea","k":"Lower Bound","x":18,"y":-0.3},{"f":"Urea","k":"Lower Bound","x":22,"y":-0.15},{"f":"Urea","k":"Lower Bound","x":30,"y":0.0},{"f":"Urea","k":"Lower Bound","x":40,"y":0.05},{"f":"Urea","k":"Lower Bound","x":55,"y":0.05},{"f":"Urea","k":"Lower Bound","x":65,"y":-0.02},{"f":"Urea","k":"Lower Bound","x":80,"y":-0.12},{"f":"Urea","k":"Lower Bound","x":100,"y":-0.22},{"f":"Urea","k":"Lower Bound","x":125,"y":-0.3},{"f":"Urea","k":"Lower Bound","x":150,"y":-0.38},{"f":"Urea","k":"Lower Bound","x":160,"y":-0.42},{"f":"Urea","k":"Lower Bound","x":175,"y":-0.55},{"f":"Urea","k":"Lower Bound","x":200,"y":-0.7},{"f":"Urea","k":"Lower Bound","x":225,"y":-0.78},{"f":"Urea","k":"Lower Bound","x":250,"y":-0.88},{"f":"Urea","k":"Lower Bound","x":262,"y":-1.05},{"f":"Urea","k":"Lower Bound","x":270,"y":-1.2},{"f":"Urea","k":"Lower Bound","x":275,"y":-1.9},

{"f":"WBC","k":"b","x":1.5,"x1":43.93,"d":0.9},{"f":"WBC","k":"b","x":43.93,"x1":86.35,"d":0.02},{"f":"WBC","k":"b","x":86.35,"x1":128.78,"d":0.02},{"f":"WBC","k":"b","x":128.78,"x1":171.2,"d":0.02},{"f":"WBC","k":"b","x":171.2,"x1":213.63,"d":0.02},{"f":"WBC","k":"b","x":213.63,"x1":256.05,"d":0.02},{"f":"WBC","k":"b","x":256.05,"x1":298.48,"d":0.02},{"f":"WBC","k":"b","x":298.48,"x1":340.9,"d":0.02},{"f":"WBC","k":"b","x":340.9,"x1":383.33,"d":0.02},{"f":"WBC","k":"b","x":383.33,"x1":425.75,"d":0.02},{"f":"WBC","k":"b","x":425.75,"x1":468.18,"d":0.02},{"f":"WBC","k":"b","x":468.18,"x1":510.6,"d":0.02},{"f":"WBC","k":"b","x":510.6,"x1":553.03,"d":0.02},{"f":"WBC","k":"b","x":553.03,"x1":595.45,"d":0.02},{"f":"WBC","k":"b","x":595.45,"x1":637.88,"d":0.02},{"f":"WBC","k":"b","x":637.88,"x1":680.3,"d":0.02},{"f":"WBC","k":"b","x":680.3,"x1":722.73,"d":0.02},{"f":"WBC","k":"b","x":722.73,"x1":765.15,"d":0.02},{"f":"WBC","k":"b","x":765.15,"x1":807.58,"d":0.02},{"f":"WBC","k":"b","x":807.58,"x1":850,"d":0.02},
{"f":"WBC","k":"a","x":12,"y":0.05,"y2":0.3},{"f":"WBC","k":"a","x":25,"y":0.2,"y2":0.5},{"f":"WBC","k":"a","x":40,"y":0.35,"y2":0.75},{"f":"WBC","k":"a","x":55,"y":0.4,"y2":0.8},{"f":"WBC","k":"a","x":65,"y":0.45,"y2":0.7},
{"f":"WBC","k":"p","x":8,"y":0.15},{"f":"WBC","k":"p","x":15,"y":0.05},{"f":"WBC","k":"p","x":18,"y":0.35},{"f":"WBC","k":"p","x":28,"y":0.55},{"f":"WBC","k":"p","x":33,"y":0.65},{"f":"WBC","k":"p","x":42,"y":0.85},{"f":"WBC","k":"p","x":48,"y":0.9},{"f":"WBC","k":"p","x":50,"y":0.95},{"f":"WBC","k":"p","x":58,"y":0.85},{"f":"WBC","k":"p","x":60,"y":1.0},{"f":"WBC","k":"p","x":68,"y":0.9},{"f":"WBC","k":"p","x":72,"y":1.1},{"f":"WBC","k":"p","x":75,"y":0.8},{"f":"WBC","k":"p","x":78,"y":0.6},{"f":"WBC","k":"p","x":82,"y":1.05},{"f":"WBC","k":"p","x":85,"y":0.7},{"f":"WBC","k":"p","x":90,"y":0.9},{"f":"WBC","k":"p","x":95,"y":0.6},{"f":"WBC","k":"p","x":100,"y":1.1},{"f":"WBC","k":"p","x":105,"y":0.8},{"f":"WBC","k":"p","x":110,"y":0.55},{"f":"WBC","k":"p","x":115,"y":1.6},{"f":"WBC","k":"p","x":120,"y":0.9},{"f":"WBC","k":"p","x":130,"y":0.7},{"f":"WBC","k":"p","x":140,"y":0.75},{"f":"WBC","k":"p","x":150,"y":1.05},{"f":"WBC","k":"p","x":160,"y":0.9},{"f":"WBC","k":"p","x":170,"y":1.2},{"f":"WBC","k":"p","x":200,"y":0.65},{"f":"WBC","k":"p","x":230,"y":1.3},{"f":"WBC","k":"p","x":235,"y":0.55},{"f":"WBC","k":"p","x":260,"y":0.6},{"f":"WBC","k":"p","x":280,"y":0.9},{"f":"WBC","k":"p","x":330,"y":1.5},{"f":"WBC","k":"p","x":400,"y":1.7},{"f":"WBC","k":"p","x":600,"y":1.85},{"f":"WBC","k":"p","x":680,"y":2.7},{"f":"WBC","k":"p","x":848,"y":3.3},
{"f":"WBC","k":"Upper Bound","x":1.5,"y":1.33},{"f":"WBC","k":"Upper Bound","x":4,"y":0.0},{"f":"WBC","k":"Upper Bound","x":8,"y":0.25},{"f":"WBC","k":"Upper Bound","x":12,"y":0.1},{"f":"WBC","k":"Upper Bound","x":18,"y":0.35},{"f":"WBC","k":"Upper Bound","x":25,"y":0.25},{"f":"WBC","k":"Upper Bound","x":35,"y":0.45},{"f":"WBC","k":"Upper Bound","x":45,"y":0.9},{"f":"WBC","k":"Upper Bound","x":55,"y":1.2},{"f":"WBC","k":"Upper Bound","x":75,"y":1.65},{"f":"WBC","k":"Upper Bound","x":100,"y":1.8},{"f":"WBC","k":"Upper Bound","x":125,"y":2.0},{"f":"WBC","k":"Upper Bound","x":175,"y":2.28},{"f":"WBC","k":"Upper Bound","x":250,"y":2.35},{"f":"WBC","k":"Upper Bound","x":320,"y":2.45},{"f":"WBC","k":"Upper Bound","x":395,"y":2.55},{"f":"WBC","k":"Upper Bound","x":500,"y":3.8},{"f":"WBC","k":"Upper Bound","x":600,"y":4.75},{"f":"WBC","k":"Upper Bound","x":850,"y":4.75},
{"f":"WBC","k":"Lower Bound","x":1.5,"y":-0.3},{"f":"WBC","k":"Lower Bound","x":5,"y":-0.35},{"f":"WBC","k":"Lower Bound","x":10,"y":-0.25},{"f":"WBC","k":"Lower Bound","x":20,"y":0.05},{"f":"WBC","k":"Lower Bound","x":30,"y":0.15},{"f":"WBC","k":"Lower Bound","x":45,"y":0.35},{"f":"WBC","k":"Lower Bound","x":60,"y":0.38},{"f":"WBC","k":"Lower Bound","x":100,"y":0.4},{"f":"WBC","k":"Lower Bound","x":200,"y":0.42},{"f":"WBC","k":"Lower Bound","x":300,"y":0.43},{"f":"WBC","k":"Lower Bound","x":400,"y":0.45},{"f":"WBC","k":"Lower Bound","x":500,"y":0.6},{"f":"WBC","k":"Lower Bound","x":600,"y":0.72},{"f":"WBC","k":"Lower Bound","x":850,"y":0.72},

{"f":"CO2","k":"b","x":2.5,"x1":4.975,"d":0.02},{"f":"CO2","k":"b","x":4.975,"x1":7.45,"d":0.02},{"f":"CO2","k":"b","x":7.45,"x1":9.925,"d":0.02},{"f":"CO2","k":"b","x":9.925,"x1":12.4,"d":0.02},{"f":"CO2","k":"b","x":12.4,"x1":14.875,"d":0.02},{"f":"CO2","k":"b","x":14.875,"x1":17.35,"d":0.02},{"f":"CO2","k":"b","x":17.35,"x1":19.825,"d":0.02},{"f":"CO2","k":"b","x":19.825,"x1":22.3,"d":0.02},{"f":"CO2","k":"b","x":22.3,"x1":24.775,"d":0.9},{"f":"CO2","k":"b","x":24.775,"x1":27.25,"d":0.02},{"f":"CO2","k":"b","x":27.25,"x1":29.725,"d":0.02},{"f":"CO2","k":"b","x":29.725,"x1":32.2,"d":0.02},{"f":"CO2","k":"b","x":32.2,"x1":34.675,"d":0.02},{"f":"CO2","k":"b","x":34.675,"x1":37.15,"d":0.02},{"f":"CO2","k":"b","x":37.15,"x1":39.625,"d":0.02},{"f":"CO2","k":"b","x":39.625,"x1":42.1,"d":0.02},{"f":"CO2","k":"b","x":42.1,"x1":44.575,"d":0.02},{"f":"CO2","k":"b","x":44.575,"x1":47.05,"d":0.02},{"f":"CO2","k":"b","x":47.05,"x1":49.525,"d":0.02},{"f":"CO2","k":"b","x":49.525,"x1":52,"d":0.02},
{"f":"CO2","k":"c","x":5,"y":-0.1,"y2":0.95},{"f":"CO2","k":"c","x":6,"y":0.0,"y2":1.0},{"f":"CO2","k":"c","x":7,"y":0.0,"y2":0.85},{"f":"CO2","k":"c","x":8,"y":0.05,"y2":0.9},{"f":"CO2","k":"c","x":9,"y":0.1,"y2":0.75},{"f":"CO2","k":"c","x":10,"y":0.1,"y2":0.7},{"f":"CO2","k":"c","x":11,"y":0.15,"y2":0.7},{"f":"CO2","k":"c","x":12,"y":0.15,"y2":0.65},{"f":"CO2","k":"c","x":13,"y":0.2,"y2":0.6},{"f":"CO2","k":"c","x":14,"y":0.25,"y2":0.6},{"f":"CO2","k":"c","x":15,"y":0.2,"y2":0.55},{"f":"CO2","k":"c","x":16,"y":0.15,"y2":0.6},{"f":"CO2","k":"c","x":17,"y":0.1,"y2":0.6},{"f":"CO2","k":"c","x":18,"y":0.08,"y2":0.55},{"f":"CO2","k":"c","x":19,"y":0.08,"y2":0.52},{"f":"CO2","k":"c","x":20,"y":0.08,"y2":0.5},{"f":"CO2","k":"c","x":21,"y":0.1,"y2":0.48},{"f":"CO2","k":"c","x":22,"y":0.1,"y2":0.45},{"f":"CO2","k":"c","x":23,"y":0.1,"y2":0.42},{"f":"CO2","k":"c","x":24,"y":0.1,"y2":0.35},{"f":"CO2","k":"c","x":25,"y":-0.02,"y2":0.3},{"f":"CO2","k":"c","x":26,"y":-0.05,"y2":0.32},{"f":"CO2","k":"c","x":27,"y":-0.07,"y2":0.33},{"f":"CO2","k":"c","x":28,"y":-0.08,"y2":0.35},{"f":"CO2","k":"c","x":29,"y":-0.1,"y2":0.36},{"f":"CO2","k":"c","x":30,"y":-0.12,"y2":0.36},{"f":"CO2","k":"c","x":31,"y":-0.12,"y2":0.37},{"f":"CO2","k":"c","x":32,"y":-0.14,"y2":0.38},{"f":"CO2","k":"c","x":33,"y":-0.15,"y2":0.38},{"f":"CO2","k":"c","x":34,"y":-0.15,"y2":0.36},{"f":"CO2","k":"c","x":35,"y":-0.16,"y2":0.35},{"f":"CO2","k":"c","x":36,"y":-0.18,"y2":0.3},{"f":"CO2","k":"c","x":37,"y":-0.2,"y2":0.25},{"f":"CO2","k":"c","x":38,"y":-0.2,"y2":0.3},{"f":"CO2","k":"c","x":39,"y":-0.22,"y2":0.2},{"f":"CO2","k":"c","x":40,"y":-0.22,"y2":0.28},{"f":"CO2","k":"c","x":41,"y":-0.24,"y2":0.15},{"f":"CO2","k":"c","x":42,"y":-0.25,"y2":0.15},{"f":"CO2","k":"c","x":43,"y":-0.25,"y2":0.1},{"f":"CO2","k":"c","x":44,"y":-0.28,"y2":0.05},
{"f":"CO2","k":"p","x":3,"y":0.45},{"f":"CO2","k":"p","x":4,"y":-0.3},{"f":"CO2","k":"p","x":6,"y":1.05},{"f":"CO2","k":"p","x":46,"y":0.05},{"f":"CO2","k":"p","x":47,"y":0.2},{"f":"CO2","k":"p","x":48,"y":-0.2},{"f":"CO2","k":"p","x":50,"y":0.55},
{"f":"CO2","k":"Upper Bound","x":2.5,"y":2.82},{"f":"CO2","k":"Upper Bound","x":4,"y":2.82},{"f":"CO2","k":"Upper Bound","x":5,"y":1.6},{"f":"CO2","k":"Upper Bound","x":6,"y":1.5},{"f":"CO2","k":"Upper Bound","x":8,"y":1.35},{"f":"CO2","k":"Upper Bound","x":10,"y":1.2},{"f":"CO2","k":"Upper Bound","x":12,"y":1.05},{"f":"CO2","k":"Upper Bound","x":13,"y":0.9},{"f":"CO2","k":"Upper Bound","x":14.5,"y":0.72},{"f":"CO2","k":"Upper Bound","x":17,"y":0.72},{"f":"CO2","k":"Upper Bound","x":18,"y":0.7},{"f":"CO2","k":"Upper Bound","x":20,"y":0.6},{"f":"CO2","k":"Upper Bound","x":22,"y":0.52},{"f":"CO2","k":"Upper Bound","x":24,"y":0.45},{"f":"CO2","k":"Upper Bound","x":24.2,"y":0.2},{"f":"CO2","k":"Upper Bound","x":25,"y":0.33},{"f":"CO2","k":"Upper Bound","x":28,"y":0.38},{"f":"CO2","k":"Upper Bound","x":32,"y":0.45},{"f":"CO2","k":"Upper Bound","x":36,"y":0.5},{"f":"CO2","k":"Upper Bound","x":40,"y":0.55},{"f":"CO2","k":"Upper Bound","x":44,"y":0.6},{"f":"CO2","k":"Upper Bound","x":48,"y":0.65},{"f":"CO2","k":"Upper Bound","x":49,"y":0.8},{"f":"CO2","k":"Upper Bound","x":52,"y":0.8},
{"f":"CO2","k":"Lower Bound","x":2.5,"y":-0.6},{"f":"CO2","k":"Lower Bound","x":4,"y":-0.6},{"f":"CO2","k":"Lower Bound","x":5,"y":-0.15},{"f":"CO2","k":"Lower Bound","x":7,"y":-0.08},{"f":"CO2","k":"Lower Bound","x":10,"y":0.05},{"f":"CO2","k":"Lower Bound","x":12,"y":0.15},{"f":"CO2","k":"Lower Bound","x":14,"y":0.3},{"f":"CO2","k":"Lower Bound","x":15,"y":0.28},{"f":"CO2","k":"Lower Bound","x":17,"y":0.15},{"f":"CO2","k":"Lower Bound","x":19,"y":0.05},{"f":"CO2","k":"Lower Bound","x":22,"y":0.07},{"f":"CO2","k":"Lower Bound","x":24,"y":0.1},{"f":"CO2","k":"Lower Bound","x":24.2,"y":-0.2},{"f":"CO2","k":"Lower Bound","x":25,"y":-0.05},{"f":"CO2","k":"Lower Bound","x":30,"y":-0.15},{"f":"CO2","k":"Lower Bound","x":35,"y":-0.22},{"f":"CO2","k":"Lower Bound","x":40,"y":-0.3},{"f":"CO2","k":"Lower Bound","x":45,"y":-0.35},{"f":"CO2","k":"Lower Bound","x":48,"y":-0.4},{"f":"CO2","k":"Lower Bound","x":49,"y":-0.6},{"f":"CO2","k":"Lower Bound","x":52,"y":-0.6},

{"f":"Na","k":"b","x":98,"x1":101.9,"d":0.02},{"f":"Na","k":"b","x":101.9,"x1":105.8,"d":0.02},{"f":"Na","k":"b","x":105.8,"x1":109.7,"d":0.02},{"f":"Na","k":"b","x":109.7,"x1":113.6,"d":0.02},{"f":"Na","k":"b","x":113.6,"x1":117.5,"d":0.02},{"f":"Na","k":"b","x":117.5,"x1":121.4,"d":0.02},{"f":"Na","k":"b","x":121.4,"x1":125.3,"d":0.02},{"f":"Na","k":"b","x":125.3,"x1":129.2,"d":0.06},{"f":"Na","k":"b","x":129.2,"x1":133.1,"d":0.3},{"f":"Na","k":"b","x":133.1,"x1":137,"d":0.35},{"f":"Na","k":"b","x":137,"x1":140.9,"d":0.9},{"f":"Na","k":"b","x":140.9,"x1":144.8,"d":0.5},{"f":"Na","k":"b","x":144.8,"x1":148.7,"d":0.07},{"f":"Na","k":"b","x":148.7,"x1":152.6,"d":0.02},{"f":"Na","k":"b","x":152.6,"x1":156.5,"d":0.02},{"f":"Na","k":"b","x":156.5,"x1":160.4,"d":0.02},{"f":"Na","k":"b","x":160.4,"x1":164.3,"d":0.02},{"f":"Na","k":"b","x":164.3,"x1":168.2,"d":0.02},{"f":"Na","k":"b","x":168.2,"x1":172.1,"d":0.02},{"f":"Na","k":"b","x":172.1,"x1":176,"d":0.02},
{"f":"Na","k":"c","x":118,"y":-0.6,"y2":0.6},{"f":"Na","k":"c","x":119,"y":-0.5,"y2":0.7},{"f":"Na","k":"c","x":120,"y":-0.5,"y2":0.85},{"f":"Na","k":"c","x":121,"y":-0.5,"y2":0.9},{"f":"Na","k":"c","x":122,"y":-0.45,"y2":0.95},{"f":"Na","k":"c","x":123,"y":-0.45,"y2":0.85},{"f":"Na","k":"c","x":124,"y":-0.35,"y2":0.8},{"f":"Na","k":"c","x":125,"y":-0.3,"y2":0.75},{"f":"Na","k":"c","x":126,"y":-0.3,"y2":0.7},{"f":"Na","k":"c","x":127,"y":-0.2,"y2":0.6},{"f":"Na","k":"c","x":128,"y":-0.05,"y2":0.5},{"f":"Na","k":"c","x":129,"y":0.0,"y2":0.4},{"f":"Na","k":"c","x":130,"y":0.05,"y2":0.3},{"f":"Na","k":"c","x":131,"y":0.1,"y2":0.28},{"f":"Na","k":"c","x":132,"y":0.08,"y2":0.26},{"f":"Na","k":"c","x":133,"y":0.05,"y2":0.26},{"f":"Na","k":"c","x":134,"y":0.0,"y2":0.25},{"f":"Na","k":"c","x":135,"y":-0.1,"y2":0.24},{"f":"Na","k":"c","x":136,"y":-0.2,"y2":0.22},{"f":"Na","k":"c","x":137,"y":-0.35,"y2":0.2},{"f":"Na","k":"c","x":138,"y":-0.4,"y2":0.18},{"f":"Na","k":"c","x":139,"y":-0.4,"y2":0.16},{"f":"Na","k":"c","x":140,"y":-0.35,"y2":0.16},{"f":"Na","k":"c","x":141,"y":-0.3,"y2":0.17},{"f":"Na","k":"c","x":142,"y":-0.28,"y2":0.18},{"f":"Na","k":"c","x":143,"y":-0.25,"y2":0.2},{"f":"Na","k":"c","x":144,"y":-0.2,"y2":0.22},{"f":"Na","k":"c","x":145,"y":-0.05,"y2":0.25},{"f":"Na","k":"c","x":146,"y":0.05,"y2":0.3},{"f":"Na","k":"c","x":147,"y":0.1,"y2":0.35},{"f":"Na","k":"c","x":148,"y":0.12,"y2":0.38},{"f":"Na","k":"c","x":149,"y":0.15,"y2":0.4},{"f":"Na","k":"c","x":150,"y":0.15,"y2":0.42},
{"f":"Na","k":"p","x":104,"y":-1.7},{"f":"Na","k":"p","x":104.3,"y":-1.6},{"f":"Na","k":"p","x":106,"y":-0.5},{"f":"Na","k":"p","x":106.5,"y":0.0},{"f":"Na","k":"p","x":107,"y":-0.9},{"f":"Na","k":"p","x":108,"y":-1.2},{"f":"Na","k":"p","x":108.5,"y":-0.3},{"f":"Na","k":"p","x":109,"y":-0.7},{"f":"Na","k":"p","x":110,"y":-1.0},{"f":"Na","k":"p","x":110.5,"y":0.1},{"f":"Na","k":"p","x":110.8,"y":0.4},{"f":"Na","k":"p","x":111,"y":-0.4},{"f":"Na","k":"p","x":112,"y":-1.1},{"f":"Na","k":"p","x":112.5,"y":-0.2},{"f":"Na","k":"p","x":113,"y":0.2},{"f":"Na","k":"p","x":113.5,"y":-0.8},{"f":"Na","k":"p","x":114,"y":-0.5},{"f":"Na","k":"p","x":115,"y":-0.1},{"f":"Na","k":"p","x":115.5,"y":-0.9},{"f":"Na","k":"p","x":116,"y":0.3},{"f":"Na","k":"p","x":116.5,"y":-0.6},{"f":"Na","k":"p","x":117,"y":0.0},{"f":"Na","k":"p","x":117.5,"y":-0.3},{"f":"Na","k":"p","x":150,"y":0.3},{"f":"Na","k":"p","x":152,"y":0.25},{"f":"Na","k":"p","x":154,"y":0.3},{"f":"Na","k":"p","x":156,"y":0.2},{"f":"Na","k":"p","x":158,"y":0.3},{"f":"Na","k":"p","x":160,"y":0.25},{"f":"Na","k":"p","x":162,"y":0.2},{"f":"Na","k":"p","x":164,"y":0.3},{"f":"Na","k":"p","x":166,"y":0.25},{"f":"Na","k":"p","x":168,"y":0.2},{"f":"Na","k":"p","x":172,"y":0.25},{"f":"Na","k":"p","x":174,"y":0.2},
{"f":"Na","k":"Upper Bound","x":98,"y":-0.42},{"f":"Na","k":"Upper Bound","x":102,"y":-0.42},{"f":"Na","k":"Upper Bound","x":104,"y":0.75},{"f":"Na","k":"Upper Bound","x":108,"y":0.9},{"f":"Na","k":"Upper Bound","x":112,"y":1.05},{"f":"Na","k":"Upper Bound","x":116,"y":1.25},{"f":"Na","k":"Upper Bound","x":120,"y":1.2},{"f":"Na","k":"Upper Bound","x":124,"y":1.05},{"f":"Na","k":"Upper Bound","x":127,"y":0.8},{"f":"Na","k":"Upper Bound","x":129,"y":0.5},{"f":"Na","k":"Upper Bound","x":131,"y":0.3},{"f":"Na","k":"Upper Bound","x":135,"y":0.25},{"f":"Na","k":"Upper Bound","x":140,"y":0.15},{"f":"Na","k":"Upper Bound","x":144,"y":0.18},{"f":"Na","k":"Upper Bound","x":148,"y":0.35},{"f":"Na","k":"Upper Bound","x":152,"y":0.45},{"f":"Na","k":"Upper Bound","x":160,"y":0.55},{"f":"Na","k":"Upper Bound","x":168,"y":0.63},{"f":"Na","k":"Upper Bound","x":173,"y":0.7},{"f":"Na","k":"Upper Bound","x":174,"y":0.8},{"f":"Na","k":"Upper Bound","x":176,"y":1.15},
{"f":"Na","k":"Lower Bound","x":98,"y":-3.8},{"f":"Na","k":"Lower Bound","x":102,"y":-3.8},{"f":"Na","k":"Lower Bound","x":104,"y":-2.0},{"f":"Na","k":"Lower Bound","x":108,"y":-1.7},{"f":"Na","k":"Lower Bound","x":113,"y":-1.35},{"f":"Na","k":"Lower Bound","x":118,"y":-0.9},{"f":"Na","k":"Lower Bound","x":122,"y":-0.65},{"f":"Na","k":"Lower Bound","x":125,"y":-0.45},{"f":"Na","k":"Lower Bound","x":128,"y":-0.1},{"f":"Na","k":"Lower Bound","x":131,"y":0.15},{"f":"Na","k":"Lower Bound","x":133,"y":0.1},{"f":"Na","k":"Lower Bound","x":135,"y":-0.05},{"f":"Na","k":"Lower Bound","x":137,"y":-0.35},{"f":"Na","k":"Lower Bound","x":138,"y":-0.45},{"f":"Na","k":"Lower Bound","x":140,"y":-0.35},{"f":"Na","k":"Lower Bound","x":143,"y":-0.25},{"f":"Na","k":"Lower Bound","x":145,"y":-0.05},{"f":"Na","k":"Lower Bound","x":148,"y":0.15},{"f":"Na","k":"Lower Bound","x":160,"y":0.15},{"f":"Na","k":"Lower Bound","x":170,"y":0.12},{"f":"Na","k":"Lower Bound","x":174,"y":0.1},{"f":"Na","k":"Lower Bound","x":176,"y":0.0},

{"f":"K","k":"b","x":1.6,"x1":2.375,"d":0.02},{"f":"K","k":"b","x":2.375,"x1":3.15,"d":0.06},{"f":"K","k":"b","x":3.15,"x1":3.925,"d":0.5},{"f":"K","k":"b","x":3.925,"x1":4.7,"d":0.9},{"f":"K","k":"b","x":4.7,"x1":5.475,"d":0.25},{"f":"K","k":"b","x":5.475,"x1":6.25,"d":0.08},{"f":"K","k":"b","x":6.25,"x1":7.025,"d":0.03},{"f":"K","k":"b","x":7.025,"x1":7.8,"d":0.02},{"f":"K","k":"b","x":7.8,"x1":8.575,"d":0.02},{"f":"K","k":"b","x":8.575,"x1":9.35,"d":0.02},{"f":"K","k":"b","x":9.35,"x1":10.125,"d":0.02},{"f":"K","k":"b","x":10.125,"x1":10.9,"d":0.02},{"f":"K","k":"b","x":10.9,"x1":11.675,"d":0.02},{"f":"K","k":"b","x":11.675,"x1":12.45,"d":0.02},{"f":"K","k":"b","x":12.45,"x1":13.225,"d":0.02},{"f":"K","k":"b","x":13.225,"x1":14,"d":0.02},{"f":"K","k":"b","x":14,"x1":14.775,"d":0.02},{"f":"K","k":"b","x":14.775,"x1":15.55,"d":0.02},{"f":"K","k":"b","x":15.55,"x1":16.325,"d":0.02},{"f":"K","k":"b","x":16.325,"x1":17.1,"d":0.02},
{"f":"K","k":"a","x":1.7,"y":-0.25,"y2":0.3},{"f":"K","k":"a","x":2.2,"y":-0.15,"y2":0.2},{"f":"K","k":"a","x":2.7,"y":-0.05,"y2":0.25},{"f":"K","k":"a","x":3.0,"y":0.0,"y2":0.35},{"f":"K","k":"a","x":3.5,"y":-0.05,"y2":0.2},{"f":"K","k":"a","x":4.0,"y":-0.05,"y2":0.15},{"f":"K","k":"a","x":4.5,"y":-0.1,"y2":0.1},{"f":"K","k":"a","x":5.0,"y":-0.2,"y2":0.12},{"f":"K","k":"a","x":5.5,"y":-0.25,"y2":0.3},{"f":"K","k":"a","x":6.0,"y":-0.3,"y2":0.32},{"f":"K","k":"a","x":6.5,"y":-0.3,"y2":0.3},{"f":"K","k":"a","x":7.0,"y":-0.25,"y2":0.35},{"f":"K","k":"a","x":7.5,"y":-0.2,"y2":0.4},{"f":"K","k":"a","x":8.0,"y":-0.15,"y2":0.35},{"f":"K","k":"a","x":8.5,"y":-0.05,"y2":0.3},{"f":"K","k":"a","x":9.0,"y":0.0,"y2":0.25},
{"f":"K","k":"p","x":1.8,"y":-0.3},{"f":"K","k":"p","x":2.0,"y":0.1},{"f":"K","k":"p","x":2.2,"y":-0.2},{"f":"K","k":"p","x":7.8,"y":0.6},{"f":"K","k":"p","x":8.0,"y":0.5},{"f":"K","k":"p","x":8.2,"y":0.6},{"f":"K","k":"p","x":8.6,"y":0.5},{"f":"K","k":"p","x":8.8,"y":0.7},{"f":"K","k":"p","x":9.0,"y":0.55},{"f":"K","k":"p","x":9.1,"y":0.9},{"f":"K","k":"p","x":9.2,"y":0.4},{"f":"K","k":"p","x":9.3,"y":0.65},{"f":"K","k":"p","x":9.5,"y":0.3},{"f":"K","k":"p","x":9.6,"y":0.15},{"f":"K","k":"p","x":9.8,"y":0.2},{"f":"K","k":"p","x":10.0,"y":0.1},{"f":"K","k":"p","x":10.2,"y":0.15},{"f":"K","k":"p","x":11.5,"y":0.1},{"f":"K","k":"p","x":11.6,"y":0.4},{"f":"K","k":"p","x":13.8,"y":1.35},{"f":"K","k":"p","x":17.0,"y":0.0},
{"f":"K","k":"Upper Bound","x":1.6,"y":1.05},{"f":"K","k":"Upper Bound","x":1.8,"y":0.4},{"f":"K","k":"Upper Bound","x":2.3,"y":0.3},{"f":"K","k":"Upper Bound","x":2.7,"y":0.2},{"f":"K","k":"Upper Bound","x":3.0,"y":0.37},{"f":"K","k":"Upper Bound","x":3.3,"y":0.35},{"f":"K","k":"Upper Bound","x":3.6,"y":0.12},{"f":"K","k":"Upper Bound","x":4.0,"y":0.15},{"f":"K","k":"Upper Bound","x":4.5,"y":0.1},{"f":"K","k":"Upper Bound","x":4.9,"y":0.1},{"f":"K","k":"Upper Bound","x":5.2,"y":0.3},{"f":"K","k":"Upper Bound","x":5.6,"y":0.38},{"f":"K","k":"Upper Bound","x":6.4,"y":0.38},{"f":"K","k":"Upper Bound","x":7.0,"y":0.55},{"f":"K","k":"Upper Bound","x":7.5,"y":0.7},{"f":"K","k":"Upper Bound","x":8.5,"y":0.95},{"f":"K","k":"Upper Bound","x":9.5,"y":1.2},{"f":"K","k":"Upper Bound","x":9.7,"y":1.35},{"f":"K","k":"Upper Bound","x":12,"y":1.38},{"f":"K","k":"Upper Bound","x":13.8,"y":1.45},{"f":"K","k":"Upper Bound","x":17.1,"y":2.3},
{"f":"K","k":"Lower Bound","x":1.6,"y":-1.15},{"f":"K","k":"Lower Bound","x":1.8,"y":-0.3},{"f":"K","k":"Lower Bound","x":2.4,"y":-0.15},{"f":"K","k":"Lower Bound","x":2.8,"y":0.05},{"f":"K","k":"Lower Bound","x":3.2,"y":-0.05},{"f":"K","k":"Lower Bound","x":3.6,"y":-0.03},{"f":"K","k":"Lower Bound","x":4.0,"y":-0.05},{"f":"K","k":"Lower Bound","x":4.5,"y":-0.1},{"f":"K","k":"Lower Bound","x":5.0,"y":-0.2},{"f":"K","k":"Lower Bound","x":6.0,"y":-0.32},{"f":"K","k":"Lower Bound","x":7.0,"y":-0.3},{"f":"K","k":"Lower Bound","x":8.0,"y":-0.2},{"f":"K","k":"Lower Bound","x":9.5,"y":-0.12},{"f":"K","k":"Lower Bound","x":10,"y":-0.1},{"f":"K","k":"Lower Bound","x":12,"y":-0.08},{"f":"K","k":"Lower Bound","x":14,"y":-0.05},{"f":"K","k":"Lower Bound","x":17.1,"y":-0.45},

{"f":"Bilirubin","k":"b","x":0,"x1":4.15,"d":0.9},{"f":"Bilirubin","k":"b","x":4.15,"x1":8.3,"d":0.02},{"f":"Bilirubin","k":"b","x":8.3,"x1":12.45,"d":0.02},{"f":"Bilirubin","k":"b","x":12.45,"x1":16.6,"d":0.02},{"f":"Bilirubin","k":"b","x":16.6,"x1":20.75,"d":0.02},{"f":"Bilirubin","k":"b","x":20.75,"x1":24.9,"d":0.02},{"f":"Bilirubin","k":"b","x":24.9,"x1":29.05,"d":0.02},{"f":"Bilirubin","k":"b","x":29.05,"x1":33.2,"d":0.02},{"f":"Bilirubin","k":"b","x":33.2,"x1":37.35,"d":0.02},{"f":"Bilirubin","k":"b","x":37.35,"x1":41.5,"d":0.02},{"f":"Bilirubin","k":"b","x":41.5,"x1":45.65,"d":0.02},{"f":"Bilirubin","k":"b","x":45.65,"x1":49.8,"d":0.02},{"f":"Bilirubin","k":"b","x":49.8,"x1":53.95,"d":0.02},{"f":"Bilirubin","k":"b","x":53.95,"x1":58.1,"d":0.02},{"f":"Bilirubin","k":"b","x":58.1,"x1":62.25,"d":0.02},{"f":"Bilirubin","k":"b","x":62.25,"x1":66.4,"d":0.02},{"f":"Bilirubin","k":"b","x":66.4,"x1":70.55,"d":0.02},{"f":"Bilirubin","k":"b","x":70.55,"x1":74.7,"d":0.02},{"f":"Bilirubin","k":"b","x":74.7,"x1":78.85,"d":0.02},{"f":"Bilirubin","k":"b","x":78.85,"x1":83,"d":0.02},
{"f":"Bilirubin","k":"a","x":0.3,"y":-0.1,"y2":0.3},{"f":"Bilirubin","k":"a","x":1,"y":-0.1,"y2":0.45},{"f":"Bilirubin","k":"a","x":2,"y":-0.12,"y2":0.55},{"f":"Bilirubin","k":"a","x":3,"y":-0.1,"y2":0.6},{"f":"Bilirubin","k":"a","x":4,"y":-0.08,"y2":0.6},{"f":"Bilirubin","k":"a","x":5,"y":-0.05,"y2":0.55},{"f":"Bilirubin","k":"a","x":6,"y":-0.03,"y2":0.45},{"f":"Bilirubin","k":"a","x":8,"y":0.0,"y2":0.35},{"f":"Bilirubin","k":"a","x":10,"y":0.0,"y2":0.25},
{"f":"Bilirubin","k":"p","x":5,"y":0.8},{"f":"Bilirubin","k":"p","x":6,"y":0.3},{"f":"Bilirubin","k":"p","x":7,"y":0.65},{"f":"Bilirubin","k":"p","x":8,"y":0.9},{"f":"Bilirubin","k":"p","x":8.5,"y":0.15},{"f":"Bilirubin","k":"p","x":9,"y":0.5},{"f":"Bilirubin","k":"p","x":10,"y":0.75},{"f":"Bilirubin","k":"p","x":10.5,"y":0.1},{"f":"Bilirubin","k":"p","x":11,"y":1.0},{"f":"Bilirubin","k":"p","x":11.5,"y":0.6},{"f":"Bilirubin","k":"p","x":12,"y":0.4},{"f":"Bilirubin","k":"p","x":12.5,"y":0.2},{"f":"Bilirubin","k":"p","x":13,"y":0.6},{"f":"Bilirubin","k":"p","x":13.5,"y":0.3},{"f":"Bilirubin","k":"p","x":14,"y":0.85},{"f":"Bilirubin","k":"p","x":14.5,"y":0.1},{"f":"Bilirubin","k":"p","x":15,"y":0.35},{"f":"Bilirubin","k":"p","x":16,"y":1.2},{"f":"Bilirubin","k":"p","x":16.5,"y":0.5},{"f":"Bilirubin","k":"p","x":17,"y":0.2},{"f":"Bilirubin","k":"p","x":18,"y":0.7},{"f":"Bilirubin","k":"p","x":18.5,"y":1.4},{"f":"Bilirubin","k":"p","x":19,"y":0.3},{"f":"Bilirubin","k":"p","x":20,"y":0.55},{"f":"Bilirubin","k":"p","x":20.5,"y":1.3},{"f":"Bilirubin","k":"p","x":21,"y":0.1},{"f":"Bilirubin","k":"p","x":22,"y":0.9},{"f":"Bilirubin","k":"p","x":23,"y":0.4},{"f":"Bilirubin","k":"p","x":24,"y":1.6},{"f":"Bilirubin","k":"p","x":24.5,"y":0.2},{"f":"Bilirubin","k":"p","x":25,"y":0.7},{"f":"Bilirubin","k":"p","x":26,"y":0.35},{"f":"Bilirubin","k":"p","x":27,"y":1.1},{"f":"Bilirubin","k":"p","x":28,"y":0.5},{"f":"Bilirubin","k":"p","x":28.5,"y":1.5},{"f":"Bilirubin","k":"p","x":29,"y":0.15},{"f":"Bilirubin","k":"p","x":30,"y":0.8},{"f":"Bilirubin","k":"p","x":31,"y":1.7},{"f":"Bilirubin","k":"p","x":32,"y":0.3},{"f":"Bilirubin","k":"p","x":33,"y":0.6},{"f":"Bilirubin","k":"p","x":34,"y":0.1},{"f":"Bilirubin","k":"p","x":35,"y":1.0},{"f":"Bilirubin","k":"p","x":36,"y":0.45},{"f":"Bilirubin","k":"p","x":37,"y":0.2},{"f":"Bilirubin","k":"p","x":38,"y":0.65},{"f":"Bilirubin","k":"p","x":40,"y":0.3},{"f":"Bilirubin","k":"p","x":41,"y":0.1},{"f":"Bilirubin","k":"p","x":43,"y":0.5},{"f":"Bilirubin","k":"p","x":44,"y":0.05},{"f":"Bilirubin","k":"p","x":47,"y":0.25},{"f":"Bilirubin","k":"p","x":48,"y":0.4},{"f":"Bilirubin","k":"p","x":54,"y":-0.6},{"f":"Bilirubin","k":"p","x":60,"y":0.0},{"f":"Bilirubin","k":"p","x":82.5,"y":-0.6},
{"f":"Bilirubin","k":"Upper Bound","x":0,"y":0.0},{"f":"Bilirubin","k":"Upper Bound","x":0.5,"y":0.35},{"f":"Bilirubin","k":"Upper Bound","x":2,"y":0.55},{"f":"Bilirubin","k":"Upper Bound","x":4,"y":0.8},{"f":"Bilirubin","k":"Upper Bound","x":6,"y":1.0},{"f":"Bilirubin","k":"Upper Bound","x":8,"y":1.2},{"f":"Bilirubin","k":"Upper Bound","x":10,"y":1.35},{"f":"Bilirubin","k":"Upper Bound","x":12,"y":1.5},{"f":"Bilirubin","k":"Upper Bound","x":15,"y":1.62},{"f":"Bilirubin","k":"Upper Bound","x":18,"y":1.75},{"f":"Bilirubin","k":"Upper Bound","x":21,"y":1.85},{"f":"Bilirubin","k":"Upper Bound","x":25,"y":2.0},{"f":"Bilirubin","k":"Upper Bound","x":29,"y":2.12},{"f":"Bilirubin","k":"Upper Bound","x":33,"y":2.25},{"f":"Bilirubin","k":"Upper Bound","x":36,"y":2.45},{"f":"Bilirubin","k":"Upper Bound","x":40,"y":2.6},{"f":"Bilirubin","k":"Upper Bound","x":44,"y":2.72},{"f":"Bilirubin","k":"Upper Bound","x":48,"y":2.8},{"f":"Bilirubin","k":"Upper Bound","x":54,"y":4.35},{"f":"Bilirubin","k":"Upper Bound","x":83,"y":4.35},
{"f":"Bilirubin","k":"Lower Bound","x":0,"y":-1.5},{"f":"Bilirubin","k":"Lower Bound","x":0.5,"y":-0.3},{"f":"Bilirubin","k":"Lower Bound","x":1,"y":0.05},{"f":"Bilirubin","k":"Lower Bound","x":1.4,"y":-0.45},{"f":"Bilirubin","k":"Lower Bound","x":2,"y":-0.12},{"f":"Bilirubin","k":"Lower Bound","x":4,"y":-0.12},{"f":"Bilirubin","k":"Lower Bound","x":8,"y":-0.05},{"f":"Bilirubin","k":"Lower Bound","x":20,"y":-0.05},{"f":"Bilirubin","k":"Lower Bound","x":30,"y":-0.05},{"f":"Bilirubin","k":"Lower Bound","x":40,"y":-0.08},{"f":"Bilirubin","k":"Lower Bound","x":48,"y":-0.12},{"f":"Bilirubin","k":"Lower Bound","x":54,"y":-1.25},{"f":"Bilirubin","k":"Lower Bound","x":83,"y":-1.25},

{"f":"AdmissionType","k":"b","x":0,"x1":0.667,"d":0.5},{"f":"AdmissionType","k":"b","x":0.667,"x1":1.333,"d":0.15},{"f":"AdmissionType","k":"b","x":1.333,"x1":2,"d":0.85},
{"f":"AdmissionType","k":"s","x":0,"y":-0.12,"y2":0.15},{"f":"AdmissionType","k":"s","x":1,"y":-0.12,"y2":0.15},{"f":"AdmissionType","k":"s","x":2,"y":-0.12,"y2":0.15},
{"f":"AdmissionType","k":"Upper Bound","x":0,"y":0.15},{"f":"AdmissionType","k":"Upper Bound","x":1,"y":0.15},{"f":"AdmissionType","k":"Upper Bound","x":2,"y":0.15},
{"f":"AdmissionType","k":"Lower Bound","x":0,"y":-0.15},{"f":"AdmissionType","k":"Lower Bound","x":1,"y":-0.15},{"f":"AdmissionType","k":"Lower Bound","x":2,"y":-0.15},

{"f":"AIDS","k":"b","x":0,"x1":0.5,"d":0.9},{"f":"AIDS","k":"b","x":0.5,"x1":1,"d":0},
{"f":"AIDS","k":"s","x":1,"y":-0.9,"y2":0.2},
{"f":"AIDS","k":"Upper Bound","x":0,"y":0.12},{"f":"AIDS","k":"Upper Bound","x":1,"y":0.2},
{"f":"AIDS","k":"Lower Bound","x":0,"y":-0.1},{"f":"AIDS","k":"Lower Bound","x":1,"y":-1.0},

{"f":"MetastaticCancer","k":"b","x":0,"x1":0.5,"d":0.9},{"f":"MetastaticCancer","k":"b","x":0.5,"x1":1,"d":0.02},
{"f":"MetastaticCancer","k":"s","x":1,"y":0.0,"y2":0.9},
{"f":"MetastaticCancer","k":"Upper Bound","x":0,"y":0.2},{"f":"MetastaticCancer","k":"Upper Bound","x":1,"y":0.9},
{"f":"MetastaticCancer","k":"Lower Bound","x":0,"y":-0.22},{"f":"MetastaticCancer","k":"Lower Bound","x":1,"y":0.0},

{"f":"Lymphoma","k":"b","x":0,"x1":0.5,"d":0.9},{"f":"Lymphoma","k":"b","x":0.5,"x1":1,"d":0.02},
{"f":"Lymphoma","k":"s","x":1,"y":0.05,"y2":1.1},
{"f":"Lymphoma","k":"Upper Bound","x":0,"y":0.12},{"f":"Lymphoma","k":"Upper Bound","x":1,"y":1.1},
{"f":"Lymphoma","k":"Lower Bound","x":0,"y":-0.12},{"f":"Lymphoma","k":"Lower Bound","x":1,"y":0.05}
]},
"concat":[
{"width":287,"height":282,"transform":[{"filter":"datum.f==='Age'"}],"encoding":{"x":{"field":"x","type":"quantitative","title":"Age","scale":{"domain":[16,105.6],"nice":false,"zero":false},"axis":{"values":[20,40,60,80,100]}}},
"layer":[
{"transform":[{"filter":"datum.k==='b'"}],"mark":{"type":"rect","fill":"#d62728"},"encoding":{"x2":{"field":"x1"},"opacity":{"field":"d","type":"quantitative","scale":{"domain":[0,1],"range":[0,0.62]},"legend":null}}},
{"transform":[{"filter":"datum.k==='a'"}],"mark":{"type":"area","color":"#0000ff","opacity":0.85},"encoding":{"y":{"field":"y","type":"quantitative","title":null,"scale":{"domain":[-5,5]}},"y2":{"field":"y2"}}},
{"transform":[{"filter":"datum.k==='p'"}],"mark":{"type":"circle","color":"#0000ff","opacity":0.3,"size":8},"encoding":{"y":{"field":"y","type":"quantitative","title":null,"scale":{"domain":[-5,5]}}}},
{"transform":[{"filter":"datum.k==='Upper Bound'||datum.k==='Lower Bound'"}],"mark":{"type":"line","strokeWidth":3,"clip":true},"encoding":{"y":{"field":"y","type":"quantitative","title":null,"scale":{"domain":[-5,5]}},"color":{"field":"k","type":"nominal","scale":{"domain":["Upper Bound","Lower Bound"],"range":["#00008b","#ff0000"]},"legend":{"title":null}}}}
]},
{"width":287,"height":282,"transform":[{"filter":"datum.f==='GCS'"}],"encoding":{"x":{"field":"x","type":"quantitative","title":"GCS","scale":{"domain":[1,5],"nice":false,"zero":false},"axis":{"values":[1,2,3,4,5],"format":"d"}}},
"layer":[
{"transform":[{"filter":"datum.k==='b'"}],"mark":{"type":"rect","fill":"#d62728"},"encoding":{"x2":{"field":"x1"},"opacity":{"field":"d","type":"quantitative","scale":{"domain":[0,1],"range":[0,0.62]},"legend":null}}},
{"transform":[{"filter":"datum.k==='s'"}],"mark":{"type":"rule","color":"#0000ff","strokeWidth":2.5},"encoding":{"y":{"field":"y","type":"quantitative","title":null,"scale":{"domain":[-5,5]}},"y2":{"field":"y2"}}},
{"transform":[{"filter":"datum.k==='Upper Bound'||datum.k==='Lower Bound'"}],"mark":{"type":"line","strokeWidth":3,"clip":true},"encoding":{"y":{"field":"y","type":"quantitative","title":null,"scale":{"domain":[-5,5]}},"color":{"field":"k","type":"nominal","scale":{"domain":["Upper Bound","Lower Bound"],"range":["#00008b","#ff0000"]},"legend":{"title":null}}}}
]},
{"width":287,"height":282,"transform":[{"filter":"datum.f==='SBP'"}],"encoding":{"x":{"field":"x","type":"quantitative","title":"SBP","scale":{"domain":[0,289],"nice":false,"zero":false},"axis":{"values":[0,50,100,150,200,250]}}},
"layer":[
{"transform":[{"filter":"datum.k==='b'"}],"mark":{"type":"rect","fill":"#d62728"},"encoding":{"x2":{"field":"x1"},"opacity":{"field":"d","type":"quantitative","scale":{"domain":[0,1],"range":[0,0.62]},"legend":null}}},
{"transform":[{"filter":"datum.k==='a'"}],"mark":{"type":"area","color":"#0000ff","opacity":0.85},"encoding":{"y":{"field":"y","type":"quantitative","title":null,"scale":{"domain":[-5,5]}},"y2":{"field":"y2"}}},
{"transform":[{"filter":"datum.k==='p'"}],"mark":{"type":"circle","color":"#0000ff","opacity":0.3,"size":8},"encoding":{"y":{"field":"y","type":"quantitative","title":null,"scale":{"domain":[-5,5]}}}},
{"transform":[{"filter":"datum.k==='Upper Bound'||datum.k==='Lower Bound'"}],"mark":{"type":"line","strokeWidth":3,"clip":true},"encoding":{"y":{"field":"y","type":"quantitative","title":null,"scale":{"domain":[-5,5]}},"color":{"field":"k","type":"nominal","scale":{"domain":["Upper Bound","Lower Bound"],"range":["#00008b","#ff0000"]},"legend":{"title":null}}}}
]},
{"width":287,"height":282,"transform":[{"filter":"datum.f==='HR'"}],"encoding":{"x":{"field":"x","type":"quantitative","title":"HR","scale":{"domain":[0,216],"nice":false,"zero":false},"axis":{"values":[0,50,100,150,200]}}},
"layer":[
{"transform":[{"filter":"datum.k==='b'"}],"mark":{"type":"rect","fill":"#d62728"},"encoding":{"x2":{"field":"x1"},"opacity":{"field":"d","type":"quantitative","scale":{"domain":[0,1],"range":[0,0.62]},"legend":null}}},
{"transform":[{"filter":"datum.k==='a'"}],"mark":{"type":"area","color":"#0000ff","opacity":0.85},"encoding":{"y":{"field":"y","type":"quantitative","title":null,"scale":{"domain":[-5,5]}},"y2":{"field":"y2"}}},
{"transform":[{"filter":"datum.k==='p'"}],"mark":{"type":"circle","color":"#0000ff","opacity":0.3,"size":8},"encoding":{"y":{"field":"y","type":"quantitative","title":null,"scale":{"domain":[-5,5]}}}},
{"transform":[{"filter":"datum.k==='Upper Bound'||datum.k==='Lower Bound'"}],"mark":{"type":"line","strokeWidth":3,"clip":true},"encoding":{"y":{"field":"y","type":"quantitative","title":null,"scale":{"domain":[-5,5]}},"color":{"field":"k","type":"nominal","scale":{"domain":["Upper Bound","Lower Bound"],"range":["#00008b","#ff0000"]},"legend":{"title":null}}}}
]},
{"width":287,"height":282,"transform":[{"filter":"datum.f==='Temperature'"}],"encoding":{"x":{"field":"x","type":"quantitative","title":"Temperature","scale":{"domain":[1,7],"nice":false,"zero":false},"axis":{"values":[1,2,3,4,5,6,7],"format":"d"}}},
"layer":[
{"transform":[{"filter":"datum.k==='b'"}],"mark":{"type":"rect","fill":"#d62728"},"encoding":{"x2":{"field":"x1"},"opacity":{"field":"d","type":"quantitative","scale":{"domain":[0,1],"range":[0,0.62]},"legend":null}}},
{"transform":[{"filter":"datum.k==='s'"}],"mark":{"type":"rule","color":"#0000ff","strokeWidth":2.5},"encoding":{"y":{"field":"y","type":"quantitative","title":null,"scale":{"domain":[-5,5]}},"y2":{"field":"y2"}}},
{"transform":[{"filter":"datum.k==='Upper Bound'||datum.k==='Lower Bound'"}],"mark":{"type":"line","strokeWidth":3,"clip":true},"encoding":{"y":{"field":"y","type":"quantitative","title":null,"scale":{"domain":[-5,5]}},"color":{"field":"k","type":"nominal","scale":{"domain":["Upper Bound","Lower Bound"],"range":["#00008b","#ff0000"]},"legend":{"title":null}}}}
]},
{"width":287,"height":282,"transform":[{"filter":"datum.f==='PFratio'"}],"encoding":{"x":{"field":"x","type":"quantitative","title":"PFratio","scale":{"domain":[0,2655],"nice":false,"zero":false},"axis":{"values":[0,500,1000,1500,2000,2500],"format":"d"}}},
"layer":[
{"transform":[{"filter":"datum.k==='b'"}],"mark":{"type":"rect","fill":"#d62728"},"encoding":{"x2":{"field":"x1"},"opacity":{"field":"d","type":"quantitative","scale":{"domain":[0,1],"range":[0,0.62]},"legend":null}}},
{"transform":[{"filter":"datum.k==='a'"}],"mark":{"type":"area","color":"#0000ff","opacity":0.85},"encoding":{"y":{"field":"y","type":"quantitative","title":null,"scale":{"domain":[-5,5]}},"y2":{"field":"y2"}}},
{"transform":[{"filter":"datum.k==='p'"}],"mark":{"type":"circle","color":"#0000ff","opacity":0.3,"size":8},"encoding":{"y":{"field":"y","type":"quantitative","title":null,"scale":{"domain":[-5,5]}}}},
{"transform":[{"filter":"datum.k==='Upper Bound'||datum.k==='Lower Bound'"}],"mark":{"type":"line","strokeWidth":3,"clip":true},"encoding":{"y":{"field":"y","type":"quantitative","title":null,"scale":{"domain":[-5,5]}},"color":{"field":"k","type":"nominal","scale":{"domain":["Upper Bound","Lower Bound"],"range":["#00008b","#ff0000"]},"legend":{"title":null}}}}
]},
{"width":287,"height":282,"transform":[{"filter":"datum.f==='Renal'"}],"encoding":{"x":{"field":"x","type":"quantitative","title":"Renal","scale":{"domain":[0,4],"nice":false,"zero":false},"axis":{"values":[0,1,2,3,4],"format":"d"}}},
"layer":[
{"transform":[{"filter":"datum.k==='b'"}],"mark":{"type":"rect","fill":"#d62728"},"encoding":{"x2":{"field":"x1"},"opacity":{"field":"d","type":"quantitative","scale":{"domain":[0,1],"range":[0,0.62]},"legend":null}}},
{"transform":[{"filter":"datum.k==='s'"}],"mark":{"type":"rule","color":"#0000ff","strokeWidth":2.5},"encoding":{"y":{"field":"y","type":"quantitative","title":null,"scale":{"domain":[-5,5]}},"y2":{"field":"y2"}}},
{"transform":[{"filter":"datum.k==='Upper Bound'||datum.k==='Lower Bound'"}],"mark":{"type":"line","strokeWidth":3,"clip":true},"encoding":{"y":{"field":"y","type":"quantitative","title":null,"scale":{"domain":[-5,5]}},"color":{"field":"k","type":"nominal","scale":{"domain":["Upper Bound","Lower Bound"],"range":["#00008b","#ff0000"]},"legend":{"title":null}}}}
]},
{"width":287,"height":282,"transform":[{"filter":"datum.f==='Urea'"}],"encoding":{"x":{"field":"x","type":"quantitative","title":"Urea","scale":{"domain":[1,275],"nice":false,"zero":false},"axis":{"values":[50,100,150,200,250]}}},
"layer":[
{"transform":[{"filter":"datum.k==='b'"}],"mark":{"type":"rect","fill":"#d62728"},"encoding":{"x2":{"field":"x1"},"opacity":{"field":"d","type":"quantitative","scale":{"domain":[0,1],"range":[0,0.62]},"legend":null}}},
{"transform":[{"filter":"datum.k==='a'"}],"mark":{"type":"area","color":"#0000ff","opacity":0.85},"encoding":{"y":{"field":"y","type":"quantitative","title":null,"scale":{"domain":[-5,5]}},"y2":{"field":"y2"}}},
{"transform":[{"filter":"datum.k==='p'"}],"mark":{"type":"circle","color":"#0000ff","opacity":0.3,"size":8},"encoding":{"y":{"field":"y","type":"quantitative","title":null,"scale":{"domain":[-5,5]}}}},
{"transform":[{"filter":"datum.k==='Upper Bound'||datum.k==='Lower Bound'"}],"mark":{"type":"line","strokeWidth":3,"clip":true},"encoding":{"y":{"field":"y","type":"quantitative","title":null,"scale":{"domain":[-5,5]}},"color":{"field":"k","type":"nominal","scale":{"domain":["Upper Bound","Lower Bound"],"range":["#00008b","#ff0000"]},"legend":{"title":null}}}}
]},
{"width":287,"height":282,"transform":[{"filter":"datum.f==='WBC'"}],"encoding":{"x":{"field":"x","type":"quantitative","title":"WBC","scale":{"domain":[1.5,850],"nice":false,"zero":false},"axis":{"values":[200,400,600,800]}}},
"layer":[
{"transform":[{"filter":"datum.k==='b'"}],"mark":{"type":"rect","fill":"#d62728"},"encoding":{"x2":{"field":"x1"},"opacity":{"field":"d","type":"quantitative","scale":{"domain":[0,1],"range":[0,0.62]},"legend":null}}},
{"transform":[{"filter":"datum.k==='a'"}],"mark":{"type":"area","color":"#0000ff","opacity":0.5},"encoding":{"y":{"field":"y","type":"quantitative","title":null,"scale":{"domain":[-5,5]}},"y2":{"field":"y2"}}},
{"transform":[{"filter":"datum.k==='p'"}],"mark":{"type":"circle","color":"#0000ff","opacity":0.3,"size":8},"encoding":{"y":{"field":"y","type":"quantitative","title":null,"scale":{"domain":[-5,5]}}}},
{"transform":[{"filter":"datum.k==='Upper Bound'||datum.k==='Lower Bound'"}],"mark":{"type":"line","strokeWidth":3,"clip":true},"encoding":{"y":{"field":"y","type":"quantitative","title":null,"scale":{"domain":[-5,5]}},"color":{"field":"k","type":"nominal","scale":{"domain":["Upper Bound","Lower Bound"],"range":["#00008b","#ff0000"]},"legend":{"title":null}}}}
]},
{"width":287,"height":282,"transform":[{"filter":"datum.f==='CO2'"}],"encoding":{"x":{"field":"x","type":"quantitative","title":"CO2","scale":{"domain":[2.5,52],"nice":false,"zero":false},"axis":{"values":[10,20,30,40,50]}}},
"layer":[
{"transform":[{"filter":"datum.k==='b'"}],"mark":{"type":"rect","fill":"#d62728"},"encoding":{"x2":{"field":"x1"},"opacity":{"field":"d","type":"quantitative","scale":{"domain":[0,1],"range":[0,0.62]},"legend":null}}},
{"transform":[{"filter":"datum.k==='c'"}],"mark":{"type":"rule","color":"#0000ff","opacity":0.7,"strokeWidth":2,"strokeDash":[1.5,1.2]},"encoding":{"y":{"field":"y","type":"quantitative","title":null,"scale":{"domain":[-5,5]}},"y2":{"field":"y2"}}},
{"transform":[{"filter":"datum.k==='p'"}],"mark":{"type":"circle","color":"#0000ff","opacity":0.3,"size":8},"encoding":{"y":{"field":"y","type":"quantitative","title":null,"scale":{"domain":[-5,5]}}}},
{"transform":[{"filter":"datum.k==='Upper Bound'||datum.k==='Lower Bound'"}],"mark":{"type":"line","strokeWidth":3,"clip":true},"encoding":{"y":{"field":"y","type":"quantitative","title":null,"scale":{"domain":[-5,5]}},"color":{"field":"k","type":"nominal","scale":{"domain":["Upper Bound","Lower Bound"],"range":["#00008b","#ff0000"]},"legend":{"title":null}}}}
]},
{"width":287,"height":282,"transform":[{"filter":"datum.f==='Na'"}],"encoding":{"x":{"field":"x","type":"quantitative","title":"Na","scale":{"domain":[98,176],"nice":false,"zero":false},"axis":{"values":[100,120,140,160]}}},
"layer":[
{"transform":[{"filter":"datum.k==='b'"}],"mark":{"type":"rect","fill":"#d62728"},"encoding":{"x2":{"field":"x1"},"opacity":{"field":"d","type":"quantitative","scale":{"domain":[0,1],"range":[0,0.62]},"legend":null}}},
{"transform":[{"filter":"datum.k==='c'"}],"mark":{"type":"rule","color":"#0000ff","opacity":0.75,"strokeWidth":2.4,"strokeDash":[1.5,1]},"encoding":{"y":{"field":"y","type":"quantitative","title":null,"scale":{"domain":[-5,5]}},"y2":{"field":"y2"}}},
{"transform":[{"filter":"datum.k==='p'"}],"mark":{"type":"circle","color":"#0000ff","opacity":0.3,"size":8},"encoding":{"y":{"field":"y","type":"quantitative","title":null,"scale":{"domain":[-5,5]}}}},
{"transform":[{"filter":"datum.k==='Upper Bound'||datum.k==='Lower Bound'"}],"mark":{"type":"line","strokeWidth":3,"clip":true},"encoding":{"y":{"field":"y","type":"quantitative","title":null,"scale":{"domain":[-5,5]}},"color":{"field":"k","type":"nominal","scale":{"domain":["Upper Bound","Lower Bound"],"range":["#00008b","#ff0000"]},"legend":{"title":null}}}}
]},
{"width":287,"height":282,"transform":[{"filter":"datum.f==='K'"}],"encoding":{"x":{"field":"x","type":"quantitative","title":"K","scale":{"domain":[1.6,17.1],"nice":false,"zero":false},"axis":{"values":[2.5,5,7.5,10,12.5,15],"format":".1f"}}},
"layer":[
{"transform":[{"filter":"datum.k==='b'"}],"mark":{"type":"rect","fill":"#d62728"},"encoding":{"x2":{"field":"x1"},"opacity":{"field":"d","type":"quantitative","scale":{"domain":[0,1],"range":[0,0.62]},"legend":null}}},
{"transform":[{"filter":"datum.k==='a'"}],"mark":{"type":"area","color":"#0000ff","opacity":0.85},"encoding":{"y":{"field":"y","type":"quantitative","title":null,"scale":{"domain":[-5,5]}},"y2":{"field":"y2"}}},
{"transform":[{"filter":"datum.k==='p'"}],"mark":{"type":"circle","color":"#0000ff","opacity":0.3,"size":8},"encoding":{"y":{"field":"y","type":"quantitative","title":null,"scale":{"domain":[-5,5]}}}},
{"transform":[{"filter":"datum.k==='Upper Bound'||datum.k==='Lower Bound'"}],"mark":{"type":"line","strokeWidth":3,"clip":true},"encoding":{"y":{"field":"y","type":"quantitative","title":null,"scale":{"domain":[-5,5]}},"color":{"field":"k","type":"nominal","scale":{"domain":["Upper Bound","Lower Bound"],"range":["#00008b","#ff0000"]},"legend":{"title":null}}}}
]},
{"width":287,"height":282,"transform":[{"filter":"datum.f==='Bilirubin'"}],"encoding":{"x":{"field":"x","type":"quantitative","title":"Bilirubin","scale":{"domain":[0,83],"nice":false,"zero":false},"axis":{"values":[0,20,40,60,80]}}},
"layer":[
{"transform":[{"filter":"datum.k==='b'"}],"mark":{"type":"rect","fill":"#d62728"},"encoding":{"x2":{"field":"x1"},"opacity":{"field":"d","type":"quantitative","scale":{"domain":[0,1],"range":[0,0.62]},"legend":null}}},
{"transform":[{"filter":"datum.k==='a'"}],"mark":{"type":"area","color":"#0000ff","opacity":0.85},"encoding":{"y":{"field":"y","type":"quantitative","title":null,"scale":{"domain":[-5,5]}},"y2":{"field":"y2"}}},
{"transform":[{"filter":"datum.k==='p'"}],"mark":{"type":"circle","color":"#0000ff","opacity":0.3,"size":8},"encoding":{"y":{"field":"y","type":"quantitative","title":null,"scale":{"domain":[-5,5]}}}},
{"transform":[{"filter":"datum.k==='Upper Bound'||datum.k==='Lower Bound'"}],"mark":{"type":"line","strokeWidth":3,"clip":true},"encoding":{"y":{"field":"y","type":"quantitative","title":null,"scale":{"domain":[-5,5]}},"color":{"field":"k","type":"nominal","scale":{"domain":["Upper Bound","Lower Bound"],"range":["#00008b","#ff0000"]},"legend":{"title":null}}}}
]},
{"width":287,"height":282,"transform":[{"filter":"datum.f==='AdmissionType'"}],"encoding":{"x":{"field":"x","type":"quantitative","title":"AdmissionType","scale":{"domain":[0,2],"nice":false,"zero":false},"axis":{"values":[0,1,2],"format":"d"}}},
"layer":[
{"transform":[{"filter":"datum.k==='b'"}],"mark":{"type":"rect","fill":"#d62728"},"encoding":{"x2":{"field":"x1"},"opacity":{"field":"d","type":"quantitative","scale":{"domain":[0,1],"range":[0,0.62]},"legend":null}}},
{"transform":[{"filter":"datum.k==='s'"}],"mark":{"type":"rule","color":"#0000ff","strokeWidth":2.5},"encoding":{"y":{"field":"y","type":"quantitative","title":null,"scale":{"domain":[-5,5]}},"y2":{"field":"y2"}}},
{"transform":[{"filter":"datum.k==='Upper Bound'||datum.k==='Lower Bound'"}],"mark":{"type":"line","strokeWidth":3,"clip":true},"encoding":{"y":{"field":"y","type":"quantitative","title":null,"scale":{"domain":[-5,5]}},"color":{"field":"k","type":"nominal","scale":{"domain":["Upper Bound","Lower Bound"],"range":["#00008b","#ff0000"]},"legend":{"title":null}}}}
]},
{"width":287,"height":282,"transform":[{"filter":"datum.f==='AIDS'"}],"encoding":{"x":{"field":"x","type":"quantitative","title":"AIDS","scale":{"domain":[0,1],"nice":false,"zero":false},"axis":{"values":[0,1],"format":"d"}}},
"layer":[
{"transform":[{"filter":"datum.k==='b'"}],"mark":{"type":"rect","fill":"#d62728"},"encoding":{"x2":{"field":"x1"},"opacity":{"field":"d","type":"quantitative","scale":{"domain":[0,1],"range":[0,0.62]},"legend":null}}},
{"transform":[{"filter":"datum.k==='s'"}],"mark":{"type":"rule","color":"#00008b","strokeWidth":1.5},"encoding":{"y":{"field":"y","type":"quantitative","title":null,"scale":{"domain":[-5,5]}},"y2":{"field":"y2"}}},
{"transform":[{"filter":"datum.k==='Upper Bound'||datum.k==='Lower Bound'"}],"mark":{"type":"line","strokeWidth":3,"clip":true},"encoding":{"y":{"field":"y","type":"quantitative","title":null,"scale":{"domain":[-5,5]}},"color":{"field":"k","type":"nominal","scale":{"domain":["Upper Bound","Lower Bound"],"range":["#00008b","#ff0000"]},"legend":{"title":null}}}}
]},
{"width":287,"height":282,"transform":[{"filter":"datum.f==='MetastaticCancer'"}],"encoding":{"x":{"field":"x","type":"quantitative","title":"MetastaticCancer","scale":{"domain":[0,1],"nice":false,"zero":false},"axis":{"values":[0,1],"format":"d"}}},
"layer":[
{"transform":[{"filter":"datum.k==='b'"}],"mark":{"type":"rect","fill":"#d62728"},"encoding":{"x2":{"field":"x1"},"opacity":{"field":"d","type":"quantitative","scale":{"domain":[0,1],"range":[0,0.62]},"legend":null}}},
{"transform":[{"filter":"datum.k==='s'"}],"mark":{"type":"rule","color":"#00008b","strokeWidth":1.5},"encoding":{"y":{"field":"y","type":"quantitative","title":null,"scale":{"domain":[-5,5]}},"y2":{"field":"y2"}}},
{"transform":[{"filter":"datum.k==='Upper Bound'||datum.k==='Lower Bound'"}],"mark":{"type":"line","strokeWidth":3,"clip":true},"encoding":{"y":{"field":"y","type":"quantitative","title":null,"scale":{"domain":[-5,5]}},"color":{"field":"k","type":"nominal","scale":{"domain":["Upper Bound","Lower Bound"],"range":["#00008b","#ff0000"]},"legend":{"title":null}}}}
]},
{"width":287,"height":282,"transform":[{"filter":"datum.f==='Lymphoma'"}],"encoding":{"x":{"field":"x","type":"quantitative","title":"Lymphoma","scale":{"domain":[0,1],"nice":false,"zero":false},"axis":{"values":[0,1],"format":"d"}}},
"layer":[
{"transform":[{"filter":"datum.k==='b'"}],"mark":{"type":"rect","fill":"#d62728"},"encoding":{"x2":{"field":"x1"},"opacity":{"field":"d","type":"quantitative","scale":{"domain":[0,1],"range":[0,0.62]},"legend":null}}},
{"transform":[{"filter":"datum.k==='s'"}],"mark":{"type":"rule","color":"#00008b","strokeWidth":1.5},"encoding":{"y":{"field":"y","type":"quantitative","title":null,"scale":{"domain":[-5,5]}},"y2":{"field":"y2"}}},
{"transform":[{"filter":"datum.k==='Upper Bound'||datum.k==='Lower Bound'"}],"mark":{"type":"line","strokeWidth":3,"clip":true},"encoding":{"y":{"field":"y","type":"quantitative","title":null,"scale":{"domain":[-5,5]}},"color":{"field":"k","type":"nominal","scale":{"domain":["Upper Bound","Lower Bound"],"range":["#00008b","#ff0000"]},"legend":{"title":null}}}}
]}
],
"config":{
"font":"DejaVu Sans",
"view":{"stroke":"#000000","strokeWidth":1.1,"fill":"#ffffff"},
"axis":{"grid":false,"domain":false,"ticks":true,"tickColor":"#000000","tickSize":4,"tickWidth":1,"labelFont":"DejaVu Sans","labelFontSize":13,"labelColor":"#000000","labelPadding":2,"labelFlush":false,"labelOverlap":false,"titleFont":"DejaVu Sans","titleFontSize":13,"titleFontWeight":"normal","titleColor":"#000000","titlePadding":3},
"axisY":{"tickCount":5},
"legend":{"orient":"top-right","offset":6,"padding":4,"fillColor":"rgba(255,255,255,0.8)","strokeColor":"#cccccc","cornerRadius":3,"symbolType":"stroke","symbolSize":676,"symbolStrokeWidth":3,"labelFont":"DejaVu Sans","labelFontSize":10.7,"labelColor":"#000000","labelOffset":7,"clipHeight":14,"rowPadding":3}
}
}
